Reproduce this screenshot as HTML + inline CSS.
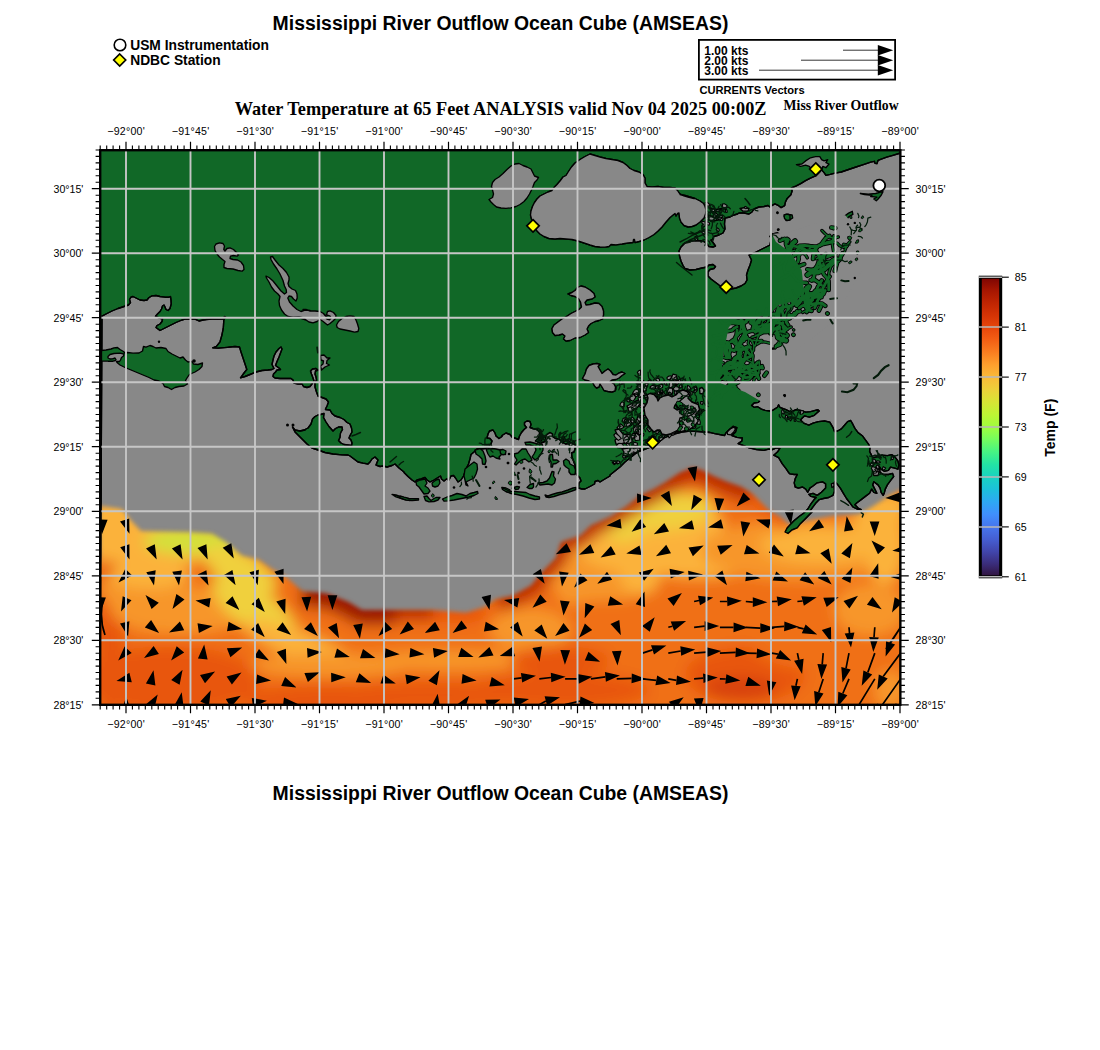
<!DOCTYPE html>
<html lang="en"><head><meta charset="utf-8"><title>Mississippi River Outflow Ocean Cube (AMSEAS)</title>
<style>html,body{margin:0;padding:0;background:#fff}body{width:1100px;height:1050px;overflow:hidden}svg{display:block}text{font-family:"Liberation Sans",Arial,Helvetica,sans-serif;fill:#000}.b{font-weight:bold}.t{font-family:"Liberation Serif","Times New Roman",Times,serif;font-weight:bold}.ax{font-size:10.6px}</style></head><body>
<svg width="1100" height="1050" viewBox="0 0 1100 1050">
<defs>
<clipPath id="mapclip"><rect x="100.2" y="150.2" width="800.15" height="554.5999999999999"/></clipPath>
<clipPath id="gulfclip"><path d="M102,316.2 L106,314 L112,311 L118,308.5 L124,306.5 L128.5,305 L130.5,302.5 L129.5,299.5 L131,297.2 L133,296.5 L136,298 L140,300 L144,300.5 L147,300 L149,297.5 L152,295.8 L156,295.5 L160,296.5 L165,297.2 L169,297.2 L170.5,296.5 L171,300 L171.2,304 L170,308.5 L168,310.5 L166,309.5 L165,307 L164,305 L162.5,306 L161.5,309 L160,311.5 L157.5,314 L155.5,316.2 L158,317.5 L162.5,319 L162,321.5 L160,324 L157,325.5 L156,327.5 L158,329 L160,330.5 L164,328.5 L170,325.5 L176,322.5 L182,320 L185,319.2 L190,318.8 L195,319.2 L199,321 L203,320 L210,319.2 L206,319.5 L212,319 L218,319.2 L223,319 L224.5,316.5 L225.5,317 L223.8,320 L223.3,328.2 L221.8,335.5 L220,341.8 L216.4,346.4 L212.7,347.8 L218.2,348.2 L227.3,347.3 L230,347 L235,346.5 L239.5,347 L241,352 L243,358 L245,364 L246.8,369.5 L244,373 L240.5,377.8 L245,376.5 L250,374.5 L256,372 L262,370.5 L268,370 L272,369.5 L274,368.5 L272,364.5 L273,360 L274,356 L276,352 L279,348.5 L281,347 L282,349 L280.5,353 L279,357 L277,361.5 L275.5,365.5 L279,368 L280.5,369.5 L277,370 L275.5,372 L273.5,374 L273,376.5 L275,378 L280,378.5 L286,378.5 L291,378.5 L293,380 L294,383 L298,384 L302,384 L303.5,386.5 L307,387.5 L310,386.5 L312,384 L314,381 L313,378 L311.5,374 L310.5,371 L312.5,369 L316,368.5 L318,370 L315.5,371 L315,374 L316,377 L316.5,380 L315,383 L315,387 L316.5,392 L318,396 L322,397.5 L326,399 L328.5,402 L327,406 L325.5,409 L325.5,409.5 L330,410 L332,413.5 L335,416 L340,417.5 L344,419.5 L347,422.5 L350,424 L351.5,428 L352,432 L350,435.5 L349,438 L351,440 L352,443 L351.5,445.5 L344,444.5 L341,443 L338.5,440.5 L340,437.5 L340.5,433 L342.5,429.5 L342,427 L339,426.8 L335.5,428.5 L333,431 L329,426.5 L326,422 L323.5,417.5 L324,413.5 L320.5,414.5 L318,415 L315,416.5 L312.5,419 L311,424 L308,428 L304,430 L300,431 L305,430 L300,431 L295,430 L292.5,427 L295,432 L299,436 L303,440 L307,444 L312,448 L318,450 L325,452.5 L333,454 L342,454.8 L348,455 L350,456 L354,459 L358,462 L363,463.2 L368,464 L370,462 L372,459 L375,457 L378,460 L376,465 L380,466.5 L383,466 L387,467 L392,465.5 L395,464 L399,468 L404,472 L404,472.5 L408,476.5 L412,480 L415,482 L417,480 L421,479 L425,477.5 L427,480 L430,482 L434,480 L438,477.5 L440.5,476 L441.5,479 L444,481 L446.5,479 L449,480 L451,476 L453.5,475.5 L455.5,478 L458,482 L461,480 L463.5,476 L465,472 L466.5,468 L468.5,464 L470,459 L471,454.5 L474,452 L477,449 L481,449 L485,448.5 L488,447 L491,444 L492,441 L490,438.5 L487,438 L488,434 L489.5,431 L493,430 L495,433 L496,436 L499,438.5 L502,436.5 L502,435.5 L506,433 L510,434.5 L512,437 L516,438.5 L518.5,439.5 L519.5,436 L521.5,432.5 L524,429.5 L526.5,427.5 L524.5,425 L524.5,422.5 L527,421 L530,421.5 L531,424.5 L530,427.5 L533,428.5 L537,429.5 L539.5,432 L539.5,436 L537.5,439 L535.5,441 L540,443 L544,442 L546,439.5 L545,436.5 L547,434.5 L550,432.5 L552.5,434 L552.5,436.5 L555.5,438.5 L559,439 L562,442 L565.5,444 L569,443.5 L571,442.5 L574,444 L575.5,445.5 L575,449 L574,452 L571.5,453 L572,457 L573.5,461 L575,465 L575.5,469 L575.5,473 L578,476 L580,478 L581,481 L579,483 L578.5,488 L582,489 L585,489 L590,486.5 L594.5,484 L595,481.5 L598,480.5 L600,482 L604,479.5 L610,476 L610,475 L615,471 L620,467 L625,462 L630,458 L635,454 L640,451 L644,449.5 L649,447.5 L653,446 L659,442 L664,438 L670,435.5 L676,433.5 L682,432 L690,431.2 L698,431.5 L704,432 L710,432.5 L707.4,431.9 L714.7,433.7 L724.6,435.5 L725.8,433.1 L729.5,429.4 L733.2,426.3 L736.9,427.6 L735.6,431.9 L731.9,435.5 L736.9,437.4 L742.4,438 L741.8,441.1 L738.1,443.5 L743,445.4 L749.1,447.8 L756.5,449.7 L763.9,450.3 L768.8,449.1 L772.5,449.7 L776.2,447.8 L779.9,448.4 L777.4,452.1 L773.7,455.2 L778.6,457.7 L782.3,463.8 L786,468.7 L788.5,472.4 L790,473.9 L794.2,474.5 L797.3,474.5 L795.2,478.6 L794.2,482.8 L795.2,487 L798.4,488.1 L802.6,487 L805.7,489.1 L807.8,492.3 L809.9,488.1 L813,486 L817.2,482.8 L822.5,481.8 L825.6,483.9 L825.6,488.1 L821.4,492.3 L817.2,495.4 L813,493.3 L808.8,494.3 L810.9,496.4 L816.2,497.5 L814.1,499.6 L810.9,503.8 L807.8,509 L803.6,513.2 L799.4,516.3 L794.2,520.5 L790,524.7 L787,528 L785,532 L788,533.5 L792,530 L797.3,527.9 L800.5,523.7 L804.7,519.5 L808.8,515.3 L812,512.1 L809.9,511.1 L813,506.9 L816.2,502.7 L819.3,499.6 L823.5,498.5 L828.7,497.5 L832.9,495.4 L834.5,491.2 L834,484.9 L835,481.8 L837.1,483.9 L840.3,488.1 L843.4,493.3 L846.5,498.5 L849.7,502.7 L852.8,506.9 L857,509 L861.2,509.5 L858.1,508 L854.9,504.8 L857,502.7 L861.2,499.6 L865.4,496.4 L869.6,493.3 L871.7,489.1 L873.8,492.3 L876.9,493.3 L874.8,489.1 L872.7,484.9 L873.8,481.8 L878,484.9 L880.1,488.1 L881.1,492.3 L883.2,495.4 L884.2,493.3 L885.3,489.1 L887.4,484.9 L890.5,480.7 L893.7,476.5 L892.6,473.4 L888.4,474.5 L883.2,474.5 L880.1,472.4 L879,466.1 L881.1,469.2 L884.2,471.3 L888.4,470.3 L890.5,467.1 L894.7,468.2 L897.9,469.2 L898.9,465 L897.9,460.8 L894.7,456.6 L891.6,454.6 L887.4,455.6 L882.1,455.1 L878,456.6 L872.7,457.7 L871.2,454.6 L869.6,451.4 L870.1,447.2 L868.5,444.1 L865.4,439.9 L862.3,435.7 L858.1,432.6 L854.9,428.4 L852.8,424.2 L850.7,420.5 L847.6,421.6 L844.5,425.2 L841.3,428.9 L837.6,431 L834.5,431.5 L832.9,427.3 L829.8,422.1 L824.6,421 L818.3,421.6 L813,423.1 L808.8,425.2 L803.6,423.1 L800.5,420 L802,418.3 L804.4,415.9 L809.3,417.1 L814.3,415.3 L819.2,411 L817.9,409.7 L810.6,411.6 L805.7,412.2 L800.7,410.4 L795.8,409.7 L790.9,412.2 L786,409.7 L779.9,407.3 L778.6,404.8 L777.4,407.3 L772.5,410.4 L770,411 L765.1,410.4 L761.4,409.1 L757.7,406.7 L754.1,407.3 L751.6,405.4 L754.1,403 L758.4,402.4 L761.4,398.7 L760.2,395 L766,392.9 L758.6,391.6 L753.7,385.5 L756.2,380.6 L763.5,378.7 L767.2,376.9 L768.5,368.3 L764.8,362.1 L758.6,360.9 L754.9,354.8 L754.9,348.6 L759.9,343.7 L764.8,342.5 L768.5,343.7 L770.9,346.2 L774.6,348.6 L779.5,346.2 L786.9,341.3 L790.6,336.3 L799.8,333.9 L795.5,329 L790.6,321.6 L794.3,316.7 L802.9,313 L815.1,310.5 L815.5,310.5 L821.6,315.5 L830.2,314.8 L827.7,309.3 L830.2,303.2 L825.3,304.4 L821.6,300.7 L825.3,294.6 L831.4,292.1 L835.1,286 L833.9,281.1 L835.1,274.9 L838.8,270 L843.7,263.5 L848.6,258.6 L843.7,253.7 L846.2,250 L849.9,245.1 L854.8,241.4 L856,236.5 L848.6,234 L843.7,230.3 L838.8,226.6 L835.1,227.9 L833.9,222.9 L827.7,226.6 L821.6,230.3 L814.2,235.2 L806.9,238.9 L803.2,239.5 L794.6,239.5 L787.2,238.9 L782.3,236.5 L777.4,232.8 L772.5,234 L770,236.5 L772,234 L770,245 L763,248.5 L756,252 L749,255 L751.5,260 L750,265 L748,270 L746.5,275 L747,280 L745,283.5 L741,286 L736,288 L731,289 L722,287 L719,285 L715,282 L711,279 L708,276 L708,272 L710,269.5 L714,268.5 L715.5,266.5 L713,264.5 L709,265 L707,267 L702,268 L696,269.5 L690,270 L685,268.5 L683,265.5 L681,261 L679.5,256 L679,251 L681,247 L685,243 L690,241 L698,240.5 L704,241.5 L707,244 L709,246.5 L713,247 L715.5,246 L713,242.5 L711,240 L712,240 L714,236.5 L719,235 L723,233 L725,229 L724.5,224 L725,218 L730,217 L734,215 L737.5,214 L739,213 L744,213 L749,214 L752,212 L754,209 L759,207 L764,206.5 L768,205.5 L770,207 L771.8,205.7 L774.9,203.9 L778.6,205.7 L781.1,207.6 L784.7,205.7 L785.4,202.1 L787.2,198.4 L790.9,194.7 L792.1,191 L791.5,187.9 L795.8,186.1 L800.7,183.6 L805.6,180.6 L810.5,178.1 L816.1,175.6 L819.1,172.6 L821.6,169.9 L824.1,172.6 L825.9,175.3 L830.2,174.4 L835.1,173.2 L841.3,172 L848.6,169.5 L856,167 L863.4,164.6 L870.7,162.1 L874.4,161.3 L875,163.4 L876.9,163.7 L878.1,160.3 L880.6,159.3 L886.7,157.2 L892.9,155.4 L899,153.5 L901,153 L901,705 L100,705Z"/></clipPath>
<filter id="tb" x="-10%" y="-10%" width="120%" height="120%"><feGaussianBlur stdDeviation="7"/></filter><filter id="tb2" x="-10%" y="-10%" width="120%" height="120%"><feGaussianBlur stdDeviation="2.0"/></filter><mask id="tmask" maskUnits="userSpaceOnUse" x="90" y="440" width="830" height="280"><g filter="url(#tb2)"><path d="M100,506 L122,509 L130.5,520 L141,531 L190.5,532 L212,533.6 L226,542 L242,555.5 L258.6,559.5 L272,569 L286,577 L302,591 L327,593.6 L348.6,602 L362,610 L395,610 L433,610 L466,612.7 L485,607 L496,599 L512,596 L531,585.5 L542,572 L556,558 L561,542 L580,536 L591,525.5 L610,517 L627,506 L640,495.5 L654,489 L665,482.5 L680,472.5 L692.5,467.5 L702,470 L712.7,475.8 L725.8,481.3 L741.1,486.7 L752,493.3 L762.9,504.2 L769.5,510.7 L780.4,517.2 L790,525 L810,520 L832.5,516 L860,514 L875,505 L890,495 L902,489 L902,706 L99,706Z" fill="#fff"/><rect x="80" y="560" width="40" height="160" fill="#fff"/><rect x="880" y="520" width="40" height="200" fill="#fff"/><rect x="80" y="690" width="840" height="40" fill="#fff"/></g></mask>
<linearGradient id="turbo" x1="0" y1="1" x2="0" y2="0">
<stop offset="0.0000" stop-color="#30123b"/>
<stop offset="0.0417" stop-color="#3a2c79"/>
<stop offset="0.0833" stop-color="#4145ab"/>
<stop offset="0.1250" stop-color="#455ed2"/>
<stop offset="0.1667" stop-color="#4675ed"/>
<stop offset="0.2083" stop-color="#408ffd"/>
<stop offset="0.2500" stop-color="#2ea8f3"/>
<stop offset="0.2917" stop-color="#1cc0db"/>
<stop offset="0.3333" stop-color="#18d3c1"/>
<stop offset="0.3750" stop-color="#23e4a4"/>
<stop offset="0.4167" stop-color="#46f484"/>
<stop offset="0.4583" stop-color="#74fc5e"/>
<stop offset="0.5000" stop-color="#a0fd3d"/>
<stop offset="0.5417" stop-color="#bdf534"/>
<stop offset="0.5833" stop-color="#d7e535"/>
<stop offset="0.6250" stop-color="#ecd03a"/>
<stop offset="0.6667" stop-color="#f9ba38"/>
<stop offset="0.7083" stop-color="#fe9f2d"/>
<stop offset="0.7500" stop-color="#fa7d20"/>
<stop offset="0.7917" stop-color="#f35e14"/>
<stop offset="0.8333" stop-color="#e6450b"/>
<stop offset="0.8750" stop-color="#d43305"/>
<stop offset="0.9167" stop-color="#be2402"/>
<stop offset="0.9583" stop-color="#a41501"/>
<stop offset="1.0000" stop-color="#7a0403"/>
</linearGradient>
</defs>
<rect width="1100" height="1050" fill="#fff"/>
<g clip-path="url(#mapclip)">
<rect x="100.2" y="150.2" width="800.15" height="554.5999999999999" fill="#116827"/>
<path d="M102,316.2 L106,314 L112,311 L118,308.5 L124,306.5 L128.5,305 L130.5,302.5 L129.5,299.5 L131,297.2 L133,296.5 L136,298 L140,300 L144,300.5 L147,300 L149,297.5 L152,295.8 L156,295.5 L160,296.5 L165,297.2 L169,297.2 L170.5,296.5 L171,300 L171.2,304 L170,308.5 L168,310.5 L166,309.5 L165,307 L164,305 L162.5,306 L161.5,309 L160,311.5 L157.5,314 L155.5,316.2 L158,317.5 L162.5,319 L162,321.5 L160,324 L157,325.5 L156,327.5 L158,329 L160,330.5 L164,328.5 L170,325.5 L176,322.5 L182,320 L185,319.2 L190,318.8 L195,319.2 L199,321 L203,320 L210,319.2 L206,319.5 L212,319 L218,319.2 L223,319 L224.5,316.5 L225.5,317 L223.8,320 L223.3,328.2 L221.8,335.5 L220,341.8 L216.4,346.4 L212.7,347.8 L218.2,348.2 L227.3,347.3 L230,347 L235,346.5 L239.5,347 L241,352 L243,358 L245,364 L246.8,369.5 L244,373 L240.5,377.8 L245,376.5 L250,374.5 L256,372 L262,370.5 L268,370 L272,369.5 L274,368.5 L272,364.5 L273,360 L274,356 L276,352 L279,348.5 L281,347 L282,349 L280.5,353 L279,357 L277,361.5 L275.5,365.5 L279,368 L280.5,369.5 L277,370 L275.5,372 L273.5,374 L273,376.5 L275,378 L280,378.5 L286,378.5 L291,378.5 L293,380 L294,383 L298,384 L302,384 L303.5,386.5 L307,387.5 L310,386.5 L312,384 L314,381 L313,378 L311.5,374 L310.5,371 L312.5,369 L316,368.5 L318,370 L315.5,371 L315,374 L316,377 L316.5,380 L315,383 L315,387 L316.5,392 L318,396 L322,397.5 L326,399 L328.5,402 L327,406 L325.5,409 L325.5,409.5 L330,410 L332,413.5 L335,416 L340,417.5 L344,419.5 L347,422.5 L350,424 L351.5,428 L352,432 L350,435.5 L349,438 L351,440 L352,443 L351.5,445.5 L344,444.5 L341,443 L338.5,440.5 L340,437.5 L340.5,433 L342.5,429.5 L342,427 L339,426.8 L335.5,428.5 L333,431 L329,426.5 L326,422 L323.5,417.5 L324,413.5 L320.5,414.5 L318,415 L315,416.5 L312.5,419 L311,424 L308,428 L304,430 L300,431 L305,430 L300,431 L295,430 L292.5,427 L295,432 L299,436 L303,440 L307,444 L312,448 L318,450 L325,452.5 L333,454 L342,454.8 L348,455 L350,456 L354,459 L358,462 L363,463.2 L368,464 L370,462 L372,459 L375,457 L378,460 L376,465 L380,466.5 L383,466 L387,467 L392,465.5 L395,464 L399,468 L404,472 L404,472.5 L408,476.5 L412,480 L415,482 L417,480 L421,479 L425,477.5 L427,480 L430,482 L434,480 L438,477.5 L440.5,476 L441.5,479 L444,481 L446.5,479 L449,480 L451,476 L453.5,475.5 L455.5,478 L458,482 L461,480 L463.5,476 L465,472 L466.5,468 L468.5,464 L470,459 L471,454.5 L474,452 L477,449 L481,449 L485,448.5 L488,447 L491,444 L492,441 L490,438.5 L487,438 L488,434 L489.5,431 L493,430 L495,433 L496,436 L499,438.5 L502,436.5 L502,435.5 L506,433 L510,434.5 L512,437 L516,438.5 L518.5,439.5 L519.5,436 L521.5,432.5 L524,429.5 L526.5,427.5 L524.5,425 L524.5,422.5 L527,421 L530,421.5 L531,424.5 L530,427.5 L533,428.5 L537,429.5 L539.5,432 L539.5,436 L537.5,439 L535.5,441 L540,443 L544,442 L546,439.5 L545,436.5 L547,434.5 L550,432.5 L552.5,434 L552.5,436.5 L555.5,438.5 L559,439 L562,442 L565.5,444 L569,443.5 L571,442.5 L574,444 L575.5,445.5 L575,449 L574,452 L571.5,453 L572,457 L573.5,461 L575,465 L575.5,469 L575.5,473 L578,476 L580,478 L581,481 L579,483 L578.5,488 L582,489 L585,489 L590,486.5 L594.5,484 L595,481.5 L598,480.5 L600,482 L604,479.5 L610,476 L610,475 L615,471 L620,467 L625,462 L630,458 L635,454 L640,451 L644,449.5 L649,447.5 L653,446 L659,442 L664,438 L670,435.5 L676,433.5 L682,432 L690,431.2 L698,431.5 L704,432 L710,432.5 L707.4,431.9 L714.7,433.7 L724.6,435.5 L725.8,433.1 L729.5,429.4 L733.2,426.3 L736.9,427.6 L735.6,431.9 L731.9,435.5 L736.9,437.4 L742.4,438 L741.8,441.1 L738.1,443.5 L743,445.4 L749.1,447.8 L756.5,449.7 L763.9,450.3 L768.8,449.1 L772.5,449.7 L776.2,447.8 L779.9,448.4 L777.4,452.1 L773.7,455.2 L778.6,457.7 L782.3,463.8 L786,468.7 L788.5,472.4 L790,473.9 L794.2,474.5 L797.3,474.5 L795.2,478.6 L794.2,482.8 L795.2,487 L798.4,488.1 L802.6,487 L805.7,489.1 L807.8,492.3 L809.9,488.1 L813,486 L817.2,482.8 L822.5,481.8 L825.6,483.9 L825.6,488.1 L821.4,492.3 L817.2,495.4 L813,493.3 L808.8,494.3 L810.9,496.4 L816.2,497.5 L814.1,499.6 L810.9,503.8 L807.8,509 L803.6,513.2 L799.4,516.3 L794.2,520.5 L790,524.7 L787,528 L785,532 L788,533.5 L792,530 L797.3,527.9 L800.5,523.7 L804.7,519.5 L808.8,515.3 L812,512.1 L809.9,511.1 L813,506.9 L816.2,502.7 L819.3,499.6 L823.5,498.5 L828.7,497.5 L832.9,495.4 L834.5,491.2 L834,484.9 L835,481.8 L837.1,483.9 L840.3,488.1 L843.4,493.3 L846.5,498.5 L849.7,502.7 L852.8,506.9 L857,509 L861.2,509.5 L858.1,508 L854.9,504.8 L857,502.7 L861.2,499.6 L865.4,496.4 L869.6,493.3 L871.7,489.1 L873.8,492.3 L876.9,493.3 L874.8,489.1 L872.7,484.9 L873.8,481.8 L878,484.9 L880.1,488.1 L881.1,492.3 L883.2,495.4 L884.2,493.3 L885.3,489.1 L887.4,484.9 L890.5,480.7 L893.7,476.5 L892.6,473.4 L888.4,474.5 L883.2,474.5 L880.1,472.4 L879,466.1 L881.1,469.2 L884.2,471.3 L888.4,470.3 L890.5,467.1 L894.7,468.2 L897.9,469.2 L898.9,465 L897.9,460.8 L894.7,456.6 L891.6,454.6 L887.4,455.6 L882.1,455.1 L878,456.6 L872.7,457.7 L871.2,454.6 L869.6,451.4 L870.1,447.2 L868.5,444.1 L865.4,439.9 L862.3,435.7 L858.1,432.6 L854.9,428.4 L852.8,424.2 L850.7,420.5 L847.6,421.6 L844.5,425.2 L841.3,428.9 L837.6,431 L834.5,431.5 L832.9,427.3 L829.8,422.1 L824.6,421 L818.3,421.6 L813,423.1 L808.8,425.2 L803.6,423.1 L800.5,420 L802,418.3 L804.4,415.9 L809.3,417.1 L814.3,415.3 L819.2,411 L817.9,409.7 L810.6,411.6 L805.7,412.2 L800.7,410.4 L795.8,409.7 L790.9,412.2 L786,409.7 L779.9,407.3 L778.6,404.8 L777.4,407.3 L772.5,410.4 L770,411 L765.1,410.4 L761.4,409.1 L757.7,406.7 L754.1,407.3 L751.6,405.4 L754.1,403 L758.4,402.4 L761.4,398.7 L760.2,395 L766,392.9 L758.6,391.6 L753.7,385.5 L756.2,380.6 L763.5,378.7 L767.2,376.9 L768.5,368.3 L764.8,362.1 L758.6,360.9 L754.9,354.8 L754.9,348.6 L759.9,343.7 L764.8,342.5 L768.5,343.7 L770.9,346.2 L774.6,348.6 L779.5,346.2 L786.9,341.3 L790.6,336.3 L799.8,333.9 L795.5,329 L790.6,321.6 L794.3,316.7 L802.9,313 L815.1,310.5 L815.5,310.5 L821.6,315.5 L830.2,314.8 L827.7,309.3 L830.2,303.2 L825.3,304.4 L821.6,300.7 L825.3,294.6 L831.4,292.1 L835.1,286 L833.9,281.1 L835.1,274.9 L838.8,270 L843.7,263.5 L848.6,258.6 L843.7,253.7 L846.2,250 L849.9,245.1 L854.8,241.4 L856,236.5 L848.6,234 L843.7,230.3 L838.8,226.6 L835.1,227.9 L833.9,222.9 L827.7,226.6 L821.6,230.3 L814.2,235.2 L806.9,238.9 L803.2,239.5 L794.6,239.5 L787.2,238.9 L782.3,236.5 L777.4,232.8 L772.5,234 L770,236.5 L772,234 L770,245 L763,248.5 L756,252 L749,255 L751.5,260 L750,265 L748,270 L746.5,275 L747,280 L745,283.5 L741,286 L736,288 L731,289 L722,287 L719,285 L715,282 L711,279 L708,276 L708,272 L710,269.5 L714,268.5 L715.5,266.5 L713,264.5 L709,265 L707,267 L702,268 L696,269.5 L690,270 L685,268.5 L683,265.5 L681,261 L679.5,256 L679,251 L681,247 L685,243 L690,241 L698,240.5 L704,241.5 L707,244 L709,246.5 L713,247 L715.5,246 L713,242.5 L711,240 L712,240 L714,236.5 L719,235 L723,233 L725,229 L724.5,224 L725,218 L730,217 L734,215 L737.5,214 L739,213 L744,213 L749,214 L752,212 L754,209 L759,207 L764,206.5 L768,205.5 L770,207 L771.8,205.7 L774.9,203.9 L778.6,205.7 L781.1,207.6 L784.7,205.7 L785.4,202.1 L787.2,198.4 L790.9,194.7 L792.1,191 L791.5,187.9 L795.8,186.1 L800.7,183.6 L805.6,180.6 L810.5,178.1 L816.1,175.6 L819.1,172.6 L821.6,169.9 L824.1,172.6 L825.9,175.3 L830.2,174.4 L835.1,173.2 L841.3,172 L848.6,169.5 L856,167 L863.4,164.6 L870.7,162.1 L874.4,161.3 L875,163.4 L876.9,163.7 L878.1,160.3 L880.6,159.3 L886.7,157.2 L892.9,155.4 L899,153.5 L901,153 L901,705 L100,705Z" fill="#888888" stroke="#000" stroke-width="1.35" stroke-linejoin="round"/>
<path d="M489,199.5 L492.5,197.5 L493.5,194 L492.5,190 L491.5,186.5 L492.5,182.5 L495,179.5 L499,177 L503,173.5 L507,169.5 L511,166 L515,164 L519,163.5 L523,165.5 L527,167 L531,169 L533,173 L534.5,176 L538.5,177.5 L537,180 L534.5,182.5 L533,186.5 L531.5,190 L529.5,194 L527,198 L524,201.5 L520,204.5 L516,206.5 L511,207.8 L506,208.3 L501,208 L496.5,207 L493.5,204.5 L491,202Z" fill="#888888" stroke="#000" stroke-width="1.35" stroke-linejoin="round"/>
<path d="M590,154 L585,156.5 L580,159.5 L575,163 L571.5,167 L568.5,171.5 L566,175.5 L563,177 L560,181 L557,184.5 L554,187.5 L552,190.5 L548,192 L544,194 L540,196 L537,199 L534.5,202.5 L532.5,206.5 L531,211 L530.5,215 L531.5,219 L533.5,225 L537,231 L540,234 L544,236.5 L549,238.5 L555,239 L560,238.5 L566,239 L572,239.5 L578,241 L584,243 L590,245 L595,246.5 L600,247 L605,247.2 L609,246.5 L611,244.5 L616,244.8 L622,244 L628,243 L633,242.5 L633.5,239.5 L634.5,239.5 L635,242.5 L639,241.5 L644,240 L649,237.5 L654,234.5 L658,231 L662,227 L666,222 L670,217.5 L673,215 L675,213.5 L676,216 L677.5,213.5 L679,213 L679.5,218 L681,222 L684,225.5 L688.5,227 L684,225.5 L688,227 L692,226.5 L696,225 L700,222 L704,218 L705.5,214 L706,210 L705,206.5 L703.5,203.5 L700,201 L695,198.5 L690,197 L685,195.5 L680,194.5 L694,198.5 L688,197 L683,195.5 L679.5,193.5 L677.5,190.5 L675,188 L670,187.5 L664,187.5 L658,186.5 L652,186.8 L647,186.5 L645,183 L645,178 L643,174.5 L639,172 L634,170.5 L630,168.5 L627,165.5 L623,162.5 L618,160.5 L612,159.5 L606,158.5 L600,157 L595,155.5 L590,154Z" fill="#888888" stroke="#000" stroke-width="1.35" stroke-linejoin="round"/>
<path d="M214.5,246.5 L216,244 L219.5,242.8 L223,243.5 L224.5,246 L223.8,249.5 L225,251 L227,248.5 L230,247.8 L233.5,249.5 L236,252 L238.5,255 L237,256.2 L233.5,255.5 L230.5,256.2 L230,258.5 L233,259.5 L237.5,260 L241,262 L243.5,265.5 L244,269.5 L242,271.2 L238,270.5 L233,269 L227,268.5 L224,267.5 L224,264.5 L225,261.5 L222.5,259.5 L219.5,257 L217,254 L215,250.5Z" fill="#888888" stroke="#000" stroke-width="1.35" stroke-linejoin="round"/>
<path d="M266,276.2 L269,277.5 L273,281 L277,286 L281,291 L284.5,294 L286.5,292.5 L286.2,289.5 L284.5,286 L283,280.5 L280,274 L277,269 L273.5,264 L271,259.5 L270.5,257 L272.5,256.5 L275,260 L279,265 L283,268.5 L286.5,272.5 L289,277 L289,280 L288,283.5 L289,286.5 L292,289 L295.5,290.5 L297,294 L297.2,298 L296,301 L293.5,299 L291.5,296.5 L289,296 L287.8,298 L289.5,302 L293,306 L297,309.5 L301,311.5 L305,310 L310,310.5 L303,309.5 L306,309.5 L310,311 L315,311 L320,311.5 L323.5,313.5 L325.5,316.2 L326.8,313.8 L327.5,311.5 L330,310.8 L333.5,312.5 L336,315.5 L335.5,318.5 L333,321 L330,323.5 L327.5,325 L325,323 L322.5,321 L320,319.5 L317,321.5 L313,322.8 L309,322 L306,320 L303,318.5 L300,318 L306,320 L304,318 L299,317 L293,317.2 L288,316.5 L284.5,314 L281.5,310 L279.5,305.5 L279,301 L280,296.5 L278,294 L274.5,291 L271.5,287 L269,282 L266.5,278Z" fill="#888888" stroke="#000" stroke-width="1.35" stroke-linejoin="round"/>
<path d="M336.5,325 L338.5,321.5 L342,318.5 L346,316.5 L350,315.8 L354,316.5 L356,320 L357.5,324 L358.8,328.5 L358,331.5 L354.5,332.2 L350,331 L345,330 L340,329 L337.2,327.5Z" fill="#888888" stroke="#000" stroke-width="1.35" stroke-linejoin="round"/>
<path d="M320.5,355.5 L324,355 L327,358 L330,358 L327,360.5 L326.5,363.5 L329.5,365 L325,367 L321.5,370 L320.5,366 L323,364 L323.5,361 L321,360Z" fill="#888888" stroke="#000" stroke-width="1.35" stroke-linejoin="round"/>
<path d="M568,294 L572,292.5 L575,290.5 L577.5,287.5 L581,286 L585,287 L590,290 L594,293.5 L595,297 L592,299 L587,300 L585,302.5 L586,305 L590,304.5 L595,303 L599,303.5 L602,306.5 L603.5,311 L603.5,315 L602.5,319 L599,320.5 L595,321.5 L591,323.5 L588.5,326 L587,329 L588.5,332.5 L585,335 L580,337.5 L575,338 L570,340.5 L566,341 L563.5,339 L565,336 L562.5,334 L559,335 L555,335.5 L552.5,332.5 L552,328.5 L554,325 L558,322 L562,319 L566.5,316.5 L571,313.5 L575,311.5 L579,309.5 L581.5,307 L580.5,302 L578.5,298.5 L575,296.5 L571,295.5Z" fill="#888888" stroke="#000" stroke-width="1.35" stroke-linejoin="round"/>
<path d="M582.5,378.5 L585,374 L586.5,369 L589,365.5 L593,364 L597,363.5 L600,364.5 L598,366.5 L600,370 L602,373.5 L605,371 L608,369 L610.5,371 L613,374.5 L616,375 L619,373 L622,372 L625,373.5 L622,375.5 L619,378 L616,379.5 L612,380 L610,381.5 L614,384 L615.5,387 L615,391 L612,392 L608,391.5 L604,390.5 L602,387 L600,384 L599,387 L596.5,388 L594.5,386 L593,383 L589,381 L585,380Z" fill="#888888" stroke="#000" stroke-width="1.35" stroke-linejoin="round"/>
<path d="M644,408 L647,403 L648,398 L647,395 L650,393.5 L654,394.5 L657,398 L658,401 L660,398 L664,396 L668,395 L672,397 L676,395 L679,391.5 L683,390 L687,391.5 L689,394 L686,396 L682,399 L679,402 L675,405 L674,408 L677,410 L680,409 L685,408.5 L690,410 L695,408 L696,411 L693,414 L689,416 L685,417 L680,418 L679,422 L680,426 L678,430 L674,432 L670,434 L666,435 L662,434 L660,430 L657,430 L654,432 L651,429 L648,425 L648,420 L645,415Z" fill="#888888" stroke="#000" stroke-width="1.35" stroke-linejoin="round"/>
<path d="M674,398.2 L679.1,391.8 L686.7,390.5 L690.5,393.1 L688,398.2 L691.8,402 L698.2,404.5 L699.5,409.6 L695.6,414.7 L698.2,421.1 L694.4,426.2 L689.3,429.4 L681.6,431.3 L676.5,431.3 L672.7,426.2 L671.5,419.8 L679.1,416 L681.6,410.9 L676.5,405.8Z" fill="#888888" stroke="#000" stroke-width="1.35" stroke-linejoin="round"/>
<path d="M600,375 L603,373 L606,371 L610,372 L614,375 L615,378 L611,380 L606,380.5 L602,379 L600,380Z" fill="#888888" stroke="#000" stroke-width="1.35" stroke-linejoin="round"/>
<path d="M601,385 L605,383.5 L610,384 L614,385 L615,390 L611,391.5 L606,390 L603,388Z" fill="#888888" stroke="#000" stroke-width="1.35" stroke-linejoin="round"/>
<path d="M627,406 L631,404 L636,401 L640,400 L640,404 L637,408 L633,410 L629,411Z" fill="#888888" stroke="#000" stroke-width="1.35" stroke-linejoin="round"/>
<path d="M634,426 L638,424 L641,426 L641,434 L638,435 L635,432Z" fill="#888888" stroke="#000" stroke-width="1.35" stroke-linejoin="round"/>
<path d="M615,430 L619,429 L623,434 L627,435 L630,434 L633,438 L632,442 L628,444 L624,443 L620,444.5 L616,444 L615,440 L618,438 L617,434Z" fill="#888888" stroke="#000" stroke-width="1.35" stroke-linejoin="round"/>
<path d="M622,449 L628,448 L634,447.5 L640,448 L640,450 L635,453 L630,456 L626,457 L623,455 L624,452Z" fill="#888888" stroke="#000" stroke-width="1.35" stroke-linejoin="round"/>
<path d="M699.5,388.5 L702,387.5 L704,390 L703,394 L700,393.5Z" fill="#888888" stroke="#000" stroke-width="1.35" stroke-linejoin="round"/>
<path d="M688,425.5 L692,424.5 L696,426 L695,428 L690,428.5Z" fill="#888888" stroke="#000" stroke-width="1.35" stroke-linejoin="round"/>
<path d="M821.6,169.5 L822.8,166.4 L825.9,167.7 L829,164 L825.9,162.7 L827.7,159.7 L824.1,160.9 L821.6,159.7 L819.8,156.6 L815.5,156.6 L810.5,157.8 L805.6,160.9 L801.9,164 L796.4,164.6 L800.7,166.4 L805.6,165.2 L809.3,166.4 L811.8,169.5 L816.1,175.6 L819.1,172.6Z" fill="#888888" stroke="#000" stroke-width="1.35" stroke-linejoin="round"/>
<path d="M710,208 L716,209.5 L722,208.5 L720,211 L715,212 L711,211.5Z" fill="#888888" stroke="#000" stroke-width="1.35" stroke-linejoin="round"/>
<path d="M708,215 L714,217 L720,215 L722,217 L718,220 L713,221 L709,220Z" fill="#888888" stroke="#000" stroke-width="1.35" stroke-linejoin="round"/>
<path d="M740,208.5 L745,207.5 L749,208.5 L748,211 L743,211.2Z" fill="#888888" stroke="#000" stroke-width="1.35" stroke-linejoin="round"/>
<path d="M872.2,470.8 L875.9,469.7 L879,472.4 L878,475.5 L873.8,475.5Z" fill="#888888" stroke="#000" stroke-width="1.35" stroke-linejoin="round"/>
<path d="M831.4,483.9 L834,482.8 L834.5,486 L831.9,487.5Z" fill="#888888" stroke="#000" stroke-width="1.35" stroke-linejoin="round"/>
<path d="M727,431.9 L730.1,428.8 L733.8,427.2 L735.6,428.8 L733.8,431.9 L730.7,434.9 L727.6,434.3Z" fill="#888888" stroke="#000" stroke-width="1.35" stroke-linejoin="round"/>
<g clip-path="url(#gulfclip)"><g mask="url(#tmask)"><g filter="url(#tb)"><rect x="60" y="420" width="900" height="330" fill="#f07016"/><ellipse cx="115" cy="530" rx="30" ry="35" fill="#fbb23a" transform="rotate(0 115 530)"/><ellipse cx="160" cy="545" rx="60" ry="22" fill="#fbb23a" transform="rotate(0 160 545)"/><ellipse cx="192" cy="541" rx="48" ry="14" fill="#d4e03a" transform="rotate(0 192 541)"/><ellipse cx="240" cy="570" rx="40" ry="18" fill="#f0d03c" transform="rotate(30 240 570)"/><ellipse cx="110" cy="640" rx="14" ry="80" fill="#e8560e" transform="rotate(0 110 640)"/><ellipse cx="180" cy="610" rx="70" ry="24" fill="#f7962a" transform="rotate(0 180 610)"/><ellipse cx="255" cy="610" rx="50" ry="20" fill="#f0d03c" transform="rotate(35 255 610)"/><ellipse cx="300" cy="645" rx="60" ry="14" fill="#fbb23a" transform="rotate(20 300 645)"/><ellipse cx="170" cy="680" rx="90" ry="34" fill="#e8560e" transform="rotate(0 170 680)"/><ellipse cx="330" cy="665" rx="80" ry="12" fill="#f7962a" transform="rotate(0 330 665)"/><ellipse cx="330" cy="700" rx="90" ry="16" fill="#e8560e" transform="rotate(0 330 700)"/><ellipse cx="130" cy="590" rx="30" ry="20" fill="#f7962a" transform="rotate(0 130 590)"/><ellipse cx="150" cy="575" rx="40" ry="14" fill="#fbb23a" transform="rotate(0 150 575)"/><ellipse cx="430" cy="640" rx="80" ry="16" fill="#f07016" transform="rotate(0 430 640)"/><ellipse cx="450" cy="660" rx="90" ry="10" fill="#f7962a" transform="rotate(0 450 660)"/><ellipse cx="430" cy="695" rx="100" ry="14" fill="#e8560e" transform="rotate(0 430 695)"/><ellipse cx="560" cy="690" rx="90" ry="18" fill="#e8560e" transform="rotate(0 560 690)"/><ellipse cx="600" cy="570" rx="50" ry="40" fill="#f7962a" transform="rotate(-30 600 570)"/><ellipse cx="610" cy="620" rx="60" ry="20" fill="#f07016" transform="rotate(0 610 620)"/><ellipse cx="530" cy="630" rx="40" ry="22" fill="#f7962a" transform="rotate(0 530 630)"/><ellipse cx="560" cy="660" rx="50" ry="14" fill="#e8560e" transform="rotate(0 560 660)"/><ellipse cx="650" cy="535" rx="75" ry="36" fill="#fbb23a" transform="rotate(-8 650 535)"/><ellipse cx="672" cy="512" rx="42" ry="18" fill="#f0d03c" transform="rotate(-8 672 512)"/><ellipse cx="630" cy="520" rx="28" ry="20" fill="#f0d03c" transform="rotate(-30 630 520)"/><ellipse cx="700" cy="560" rx="60" ry="18" fill="#fbb23a" transform="rotate(0 700 560)"/><ellipse cx="800" cy="550" rx="100" ry="30" fill="#f7962a" transform="rotate(0 800 550)"/><ellipse cx="820" cy="545" rx="60" ry="18" fill="#fbb23a" transform="rotate(0 820 545)"/><ellipse cx="880" cy="515" rx="30" ry="20" fill="#fbb23a" transform="rotate(-30 880 515)"/><ellipse cx="885" cy="545" rx="20" ry="40" fill="#fbb23a" transform="rotate(0 885 545)"/><ellipse cx="745" cy="675" rx="60" ry="28" fill="#e8560e" transform="rotate(0 745 675)"/><ellipse cx="740" cy="688" rx="36" ry="12" fill="#d8420a" transform="rotate(0 740 688)"/><ellipse cx="820" cy="640" rx="70" ry="30" fill="#f07016" transform="rotate(0 820 640)"/><ellipse cx="690" cy="620" rx="60" ry="20" fill="#f07016" transform="rotate(0 690 620)"/><ellipse cx="870" cy="610" rx="36" ry="26" fill="#f7962a" transform="rotate(0 870 610)"/><ellipse cx="890" cy="690" rx="16" ry="20" fill="#f7962a" transform="rotate(0 890 690)"/><ellipse cx="640" cy="575" rx="20" ry="20" fill="#fbb23a" transform="rotate(0 640 575)"/><path d="M395,610 L433,610 L466,612.7 L485,607" fill="none" stroke="#e8560e" stroke-width="22" stroke-linejoin="round"/><path d="M302,591 L327,593.6 L348.6,602 L362,610 L395,610" fill="none" stroke="#9c1802" stroke-width="30" stroke-linejoin="round"/><path d="M395,610 L433,610" fill="none" stroke="#bc2a02" stroke-width="20" stroke-linejoin="round"/><path d="M496,599 L512,596 L531,585.5 L542,572 L556,558 L561,542 L580,536 L591,525.5 L610,517 L627,506" fill="none" stroke="#bc2a02" stroke-width="22" stroke-linejoin="round"/><path d="M627,506 L640,495.5 L654,489 L665,482.5 L680,472.5 L692.5,467.5 L702,470 L712.7,475.8 L725.8,481.3 L741.1,486.7 L752,493.3" fill="none" stroke="#bc2a02" stroke-width="26" stroke-linejoin="round"/><path d="M752,493.3 L762.9,504.2 L769.5,510.7 L780.4,517.2 L790,525" fill="none" stroke="#e8560e" stroke-width="16" stroke-linejoin="round"/></g></g></g>
<path d="M102,316.2 L106,314 L112,311 L118,308.5 L124,306.5 L128.5,305 L130.5,302.5 L129.5,299.5 L131,297.2 L133,296.5 L136,298 L140,300 L144,300.5 L147,300 L149,297.5 L152,295.8 L156,295.5 L160,296.5 L165,297.2 L169,297.2 L170.5,296.5 L171,300 L171.2,304 L170,308.5 L168,310.5 L166,309.5 L165,307 L164,305 L162.5,306 L161.5,309 L160,311.5 L157.5,314 L155.5,316.2 L158,317.5 L162.5,319 L162,321.5 L160,324 L157,325.5 L156,327.5 L158,329 L160,330.5 L164,328.5 L170,325.5 L176,322.5 L182,320 L185,319.2 L190,318.8 L195,319.2 L199,321 L203,320 L210,319.2 L206,319.5 L212,319 L218,319.2 L223,319 L224.5,316.5 L225.5,317 L223.8,320 L223.3,328.2 L221.8,335.5 L220,341.8 L216.4,346.4 L212.7,347.8 L218.2,348.2 L227.3,347.3 L230,347 L235,346.5 L239.5,347 L241,352 L243,358 L245,364 L246.8,369.5 L244,373 L240.5,377.8 L245,376.5 L250,374.5 L256,372 L262,370.5 L268,370 L272,369.5 L274,368.5 L272,364.5 L273,360 L274,356 L276,352 L279,348.5 L281,347 L282,349 L280.5,353 L279,357 L277,361.5 L275.5,365.5 L279,368 L280.5,369.5 L277,370 L275.5,372 L273.5,374 L273,376.5 L275,378 L280,378.5 L286,378.5 L291,378.5 L293,380 L294,383 L298,384 L302,384 L303.5,386.5 L307,387.5 L310,386.5 L312,384 L314,381 L313,378 L311.5,374 L310.5,371 L312.5,369 L316,368.5 L318,370 L315.5,371 L315,374 L316,377 L316.5,380 L315,383 L315,387 L316.5,392 L318,396 L322,397.5 L326,399 L328.5,402 L327,406 L325.5,409 L325.5,409.5 L330,410 L332,413.5 L335,416 L340,417.5 L344,419.5 L347,422.5 L350,424 L351.5,428 L352,432 L350,435.5 L349,438 L351,440 L352,443 L351.5,445.5 L344,444.5 L341,443 L338.5,440.5 L340,437.5 L340.5,433 L342.5,429.5 L342,427 L339,426.8 L335.5,428.5 L333,431 L329,426.5 L326,422 L323.5,417.5 L324,413.5 L320.5,414.5 L318,415 L315,416.5 L312.5,419 L311,424 L308,428 L304,430 L300,431 L305,430 L300,431 L295,430 L292.5,427 L295,432 L299,436 L303,440 L307,444 L312,448 L318,450 L325,452.5 L333,454 L342,454.8 L348,455 L350,456 L354,459 L358,462 L363,463.2 L368,464 L370,462 L372,459 L375,457 L378,460 L376,465 L380,466.5 L383,466 L387,467 L392,465.5 L395,464 L399,468 L404,472 L404,472.5 L408,476.5 L412,480 L415,482 L417,480 L421,479 L425,477.5 L427,480 L430,482 L434,480 L438,477.5 L440.5,476 L441.5,479 L444,481 L446.5,479 L449,480 L451,476 L453.5,475.5 L455.5,478 L458,482 L461,480 L463.5,476 L465,472 L466.5,468 L468.5,464 L470,459 L471,454.5 L474,452 L477,449 L481,449 L485,448.5 L488,447 L491,444 L492,441 L490,438.5 L487,438 L488,434 L489.5,431 L493,430 L495,433 L496,436 L499,438.5 L502,436.5 L502,435.5 L506,433 L510,434.5 L512,437 L516,438.5 L518.5,439.5 L519.5,436 L521.5,432.5 L524,429.5 L526.5,427.5 L524.5,425 L524.5,422.5 L527,421 L530,421.5 L531,424.5 L530,427.5 L533,428.5 L537,429.5 L539.5,432 L539.5,436 L537.5,439 L535.5,441 L540,443 L544,442 L546,439.5 L545,436.5 L547,434.5 L550,432.5 L552.5,434 L552.5,436.5 L555.5,438.5 L559,439 L562,442 L565.5,444 L569,443.5 L571,442.5 L574,444 L575.5,445.5 L575,449 L574,452 L571.5,453 L572,457 L573.5,461 L575,465 L575.5,469 L575.5,473 L578,476 L580,478 L581,481 L579,483 L578.5,488 L582,489 L585,489 L590,486.5 L594.5,484 L595,481.5 L598,480.5 L600,482 L604,479.5 L610,476 L610,475 L615,471 L620,467 L625,462 L630,458 L635,454 L640,451 L644,449.5 L649,447.5 L653,446 L659,442 L664,438 L670,435.5 L676,433.5 L682,432 L690,431.2 L698,431.5 L704,432 L710,432.5 L707.4,431.9 L714.7,433.7 L724.6,435.5 L725.8,433.1 L729.5,429.4 L733.2,426.3 L736.9,427.6 L735.6,431.9 L731.9,435.5 L736.9,437.4 L742.4,438 L741.8,441.1 L738.1,443.5 L743,445.4 L749.1,447.8 L756.5,449.7 L763.9,450.3 L768.8,449.1 L772.5,449.7 L776.2,447.8 L779.9,448.4 L777.4,452.1 L773.7,455.2 L778.6,457.7 L782.3,463.8 L786,468.7 L788.5,472.4 L790,473.9 L794.2,474.5 L797.3,474.5 L795.2,478.6 L794.2,482.8 L795.2,487 L798.4,488.1 L802.6,487 L805.7,489.1 L807.8,492.3 L809.9,488.1 L813,486 L817.2,482.8 L822.5,481.8 L825.6,483.9 L825.6,488.1 L821.4,492.3 L817.2,495.4 L813,493.3 L808.8,494.3 L810.9,496.4 L816.2,497.5 L814.1,499.6 L810.9,503.8 L807.8,509 L803.6,513.2 L799.4,516.3 L794.2,520.5 L790,524.7 L787,528 L785,532 L788,533.5 L792,530 L797.3,527.9 L800.5,523.7 L804.7,519.5 L808.8,515.3 L812,512.1 L809.9,511.1 L813,506.9 L816.2,502.7 L819.3,499.6 L823.5,498.5 L828.7,497.5 L832.9,495.4 L834.5,491.2 L834,484.9 L835,481.8 L837.1,483.9 L840.3,488.1 L843.4,493.3 L846.5,498.5 L849.7,502.7 L852.8,506.9 L857,509 L861.2,509.5 L858.1,508 L854.9,504.8 L857,502.7 L861.2,499.6 L865.4,496.4 L869.6,493.3 L871.7,489.1 L873.8,492.3 L876.9,493.3 L874.8,489.1 L872.7,484.9 L873.8,481.8 L878,484.9 L880.1,488.1 L881.1,492.3 L883.2,495.4 L884.2,493.3 L885.3,489.1 L887.4,484.9 L890.5,480.7 L893.7,476.5 L892.6,473.4 L888.4,474.5 L883.2,474.5 L880.1,472.4 L879,466.1 L881.1,469.2 L884.2,471.3 L888.4,470.3 L890.5,467.1 L894.7,468.2 L897.9,469.2 L898.9,465 L897.9,460.8 L894.7,456.6 L891.6,454.6 L887.4,455.6 L882.1,455.1 L878,456.6 L872.7,457.7 L871.2,454.6 L869.6,451.4 L870.1,447.2 L868.5,444.1 L865.4,439.9 L862.3,435.7 L858.1,432.6 L854.9,428.4 L852.8,424.2 L850.7,420.5 L847.6,421.6 L844.5,425.2 L841.3,428.9 L837.6,431 L834.5,431.5 L832.9,427.3 L829.8,422.1 L824.6,421 L818.3,421.6 L813,423.1 L808.8,425.2 L803.6,423.1 L800.5,420 L802,418.3 L804.4,415.9 L809.3,417.1 L814.3,415.3 L819.2,411 L817.9,409.7 L810.6,411.6 L805.7,412.2 L800.7,410.4 L795.8,409.7 L790.9,412.2 L786,409.7 L779.9,407.3 L778.6,404.8 L777.4,407.3 L772.5,410.4 L770,411 L765.1,410.4 L761.4,409.1 L757.7,406.7 L754.1,407.3 L751.6,405.4 L754.1,403 L758.4,402.4 L761.4,398.7 L760.2,395 L766,392.9 L758.6,391.6 L753.7,385.5 L756.2,380.6 L763.5,378.7 L767.2,376.9 L768.5,368.3 L764.8,362.1 L758.6,360.9 L754.9,354.8 L754.9,348.6 L759.9,343.7 L764.8,342.5 L768.5,343.7 L770.9,346.2 L774.6,348.6 L779.5,346.2 L786.9,341.3 L790.6,336.3 L799.8,333.9 L795.5,329 L790.6,321.6 L794.3,316.7 L802.9,313 L815.1,310.5 L815.5,310.5 L821.6,315.5 L830.2,314.8 L827.7,309.3 L830.2,303.2 L825.3,304.4 L821.6,300.7 L825.3,294.6 L831.4,292.1 L835.1,286 L833.9,281.1 L835.1,274.9 L838.8,270 L843.7,263.5 L848.6,258.6 L843.7,253.7 L846.2,250 L849.9,245.1 L854.8,241.4 L856,236.5 L848.6,234 L843.7,230.3 L838.8,226.6 L835.1,227.9 L833.9,222.9 L827.7,226.6 L821.6,230.3 L814.2,235.2 L806.9,238.9 L803.2,239.5 L794.6,239.5 L787.2,238.9 L782.3,236.5 L777.4,232.8 L772.5,234 L770,236.5 L772,234 L770,245 L763,248.5 L756,252 L749,255 L751.5,260 L750,265 L748,270 L746.5,275 L747,280 L745,283.5 L741,286 L736,288 L731,289 L722,287 L719,285 L715,282 L711,279 L708,276 L708,272 L710,269.5 L714,268.5 L715.5,266.5 L713,264.5 L709,265 L707,267 L702,268 L696,269.5 L690,270 L685,268.5 L683,265.5 L681,261 L679.5,256 L679,251 L681,247 L685,243 L690,241 L698,240.5 L704,241.5 L707,244 L709,246.5 L713,247 L715.5,246 L713,242.5 L711,240 L712,240 L714,236.5 L719,235 L723,233 L725,229 L724.5,224 L725,218 L730,217 L734,215 L737.5,214 L739,213 L744,213 L749,214 L752,212 L754,209 L759,207 L764,206.5 L768,205.5 L770,207 L771.8,205.7 L774.9,203.9 L778.6,205.7 L781.1,207.6 L784.7,205.7 L785.4,202.1 L787.2,198.4 L790.9,194.7 L792.1,191 L791.5,187.9 L795.8,186.1 L800.7,183.6 L805.6,180.6 L810.5,178.1 L816.1,175.6 L819.1,172.6 L821.6,169.9 L824.1,172.6 L825.9,175.3 L830.2,174.4 L835.1,173.2 L841.3,172 L848.6,169.5 L856,167 L863.4,164.6 L870.7,162.1 L874.4,161.3 L875,163.4 L876.9,163.7 L878.1,160.3 L880.6,159.3 L886.7,157.2 L892.9,155.4 L899,153.5 L901,153 L901,705 L100,705Z" fill="none" stroke="#000" stroke-width="1.35" stroke-linejoin="round"/>
<path d="M101.5,350.5 L106,350 L111,349 L114,347.8 L117.5,347.5 L120,349.5 L123.5,351.5 L125,353 L127.5,352.5 L133,353.2 L139,353 L142.5,351 L143.5,346.5 L146,347.2 L150,345.5 L153,346.5 L156,348 L161,347.5 L166,348.5 L168,351.5 L172,354 L177,356.5 L180,358 L183,357 L185.5,360 L188,362 L192,361.5 L193.5,364 L198,364.5 L202.5,363 L202,366.5 L199,369.5 L195,372 L191.5,373.5 L189,375 L187,378 L185.5,380.5 L187.5,384 L184,386 L179,386.5 L175,387.5 L171.5,389.5 L168,387.5 L164.5,386.5 L163,383.5 L159,381 L154,380 L149,377.5 L143,375 L137,372.5 L131,370 L125,367.5 L120,365 L117,362.5 L116.5,361.5 L119.5,361.5 L120.5,360 L121.5,357.5 L123.5,356 L123.8,354 L120,353.2 L114,353.5 L110,354.5 L108,356.5 L108,358 L110,359 L112.5,358.8 L115,358 L116,359.5 L115.5,360.5 L113,361.2 L108,361.2 L101.5,361Z" fill="#116827" stroke="#000" stroke-width="1.35" stroke-linejoin="round"/>
<path d="M327.5,315 L330,316.2 L331,318 L329.5,319.8 L327,319.2 L325.8,317.5Z" fill="#116827" stroke="#000" stroke-width="1.35" stroke-linejoin="round"/>
<path d="M392,494.5 L396,495 L400,496.5 L405,498 L410,499.2 L410,500.5 L405,499.5 L400,498.2 L396,496.8Z" fill="#116827" stroke="#000" stroke-width="1.35" stroke-linejoin="round"/>
<path d="M400,496 L404,497.2 L409,498.5 L414,498.6 L418.5,498.6 L418.5,500 L412,500.5 L406,500 L400,498Z" fill="#116827" stroke="#000" stroke-width="1.35" stroke-linejoin="round"/>
<path d="M416,482 L420,480 L425,479 L427,483 L425,486 L428,488 L430,491 L428,493.5 L424,494 L421.5,490.5 L419,487 L416.5,485Z" fill="#116827" stroke="#000" stroke-width="1.35" stroke-linejoin="round"/>
<path d="M432,483 L436,480 L439,479 L440,483 L438,486 L435,487 L432.5,486Z" fill="#116827" stroke="#000" stroke-width="1.35" stroke-linejoin="round"/>
<path d="M424,496.5 L427,496 L429,498.5 L431,500.5 L434,498.5 L436,497.5 L440,497.5 L438,500 L434,501.5 L429,501.8 L425.5,500.5Z" fill="#116827" stroke="#000" stroke-width="1.35" stroke-linejoin="round"/>
<path d="M442.5,499 L447,497 L452,495.5 L457,493.5 L462,494.5 L466,496 L470,493.5 L474,492.5 L477.5,491.5 L478,493.5 L474,495.5 L469,497 L464,498 L459,499 L454,500 L448,500.8 L444,501.2Z" fill="#116827" stroke="#000" stroke-width="1.35" stroke-linejoin="round"/>
<path d="M475,450 L480,448.5 L483,451 L485,456 L486,461 L485,464.5 L482.5,464 L482,459 L479,456 L476,454Z" fill="#116827" stroke="#000" stroke-width="1.35" stroke-linejoin="round"/>
<path d="M486,449 L492,448.5 L496,449 L500,450 L504,451 L505.5,454.5 L502,454 L499,457 L500,459 L496,458 L493,456 L490,457 L488,454Z" fill="#116827" stroke="#000" stroke-width="1.35" stroke-linejoin="round"/>
<path d="M465,469 L470,465 L474,462 L477,464 L477.5,469 L476,474 L474,478 L470,480 L466,482 L468,486 L466,485 L465,480 L464,476Z" fill="#116827" stroke="#000" stroke-width="1.35" stroke-linejoin="round"/>
<path d="M502,487.5 L506,488 L510,490 L510,492.5 L506,491.5 L503,489.5Z" fill="#116827" stroke="#000" stroke-width="1.35" stroke-linejoin="round"/>
<path d="M525,442.5 L530,442 L534,443 L538,444 L542,444 L543,447 L543,450 L541,454 L538,458 L535,460 L532,457 L534,454 L536,450 L535,447 L530,445 L526,445Z" fill="#116827" stroke="#000" stroke-width="1.35" stroke-linejoin="round"/>
<path d="M514,454 L518,453 L522,449 L526,449 L528,453 L530,456 L532,460 L529,462 L525,459 L522,460 L519,462 L516,465 L514.5,464 L517,460 L515,457Z" fill="#116827" stroke="#000" stroke-width="1.35" stroke-linejoin="round"/>
<path d="M550,454.5 L552.5,454.5 L553,460 L557,460 L559,461.5 L556,463.5 L553,464 L552.5,467 L551,467 L551,462 L549.5,459Z" fill="#116827" stroke="#000" stroke-width="1.35" stroke-linejoin="round"/>
<path d="M563.5,461 L566,459 L569,461 L570,464 L574,466 L575.5,470 L575,474.5 L571,474.5 L569,472 L569,469 L566,467 L564,465Z" fill="#116827" stroke="#000" stroke-width="1.35" stroke-linejoin="round"/>
<path d="M538,483 L543,482.5 L547,481 L549.5,478 L551,474 L552,471.5 L554,472 L553.5,476 L555.5,479 L554.5,483 L552,485 L548,484 L544,484.5 L540,485Z" fill="#116827" stroke="#000" stroke-width="1.35" stroke-linejoin="round"/>
<path d="M527,487.5 L530,484.5 L533.5,483.5 L533.5,487 L532,488.5 L529,488.5Z" fill="#116827" stroke="#000" stroke-width="1.35" stroke-linejoin="round"/>
<path d="M514,487.5 L517,486.5 L519.5,487 L518.5,489 L515.5,489.5Z" fill="#116827" stroke="#000" stroke-width="1.35" stroke-linejoin="round"/>
<path d="M502,487.5 L506,489.5 L510,491.5 L514,491.5 L520,492 L526,492.5 L530,494.5 L535,496 L539.5,497 L539.5,499 L535,499.5 L529,498 L523,496 L517,494.5 L511,493.5 L506,491.5 L502.5,489.5Z" fill="#116827" stroke="#000" stroke-width="1.35" stroke-linejoin="round"/>
<path d="M545,495 L548,496 L552,494.5 L557,493 L562,492 L568,490 L573,488 L576,487.5 L576,489.5 L572,491 L566,493 L560,494.5 L554,496.5 L549,497.5 L546,497Z" fill="#116827" stroke="#000" stroke-width="1.35" stroke-linejoin="round"/>
<path d="M500,450 L503,449.5 L506,451 L505.5,454 L503,454.8 L500.5,453.5Z" fill="#116827" stroke="#000" stroke-width="1.35" stroke-linejoin="round"/>
<path d="M860.3,193.5 L868.3,194.1 L875.7,193.5 L880.6,192.2 L883,191.6 L881.2,195.3 L878.1,199 L876.3,200.8 L873.8,199 L876.9,197.1 L870.7,196.5 L872,195.3 L864.6,194.7Z" fill="#116827" stroke="#000" stroke-width="1.35" stroke-linejoin="round"/>
<path d="M784.1,216.2 L788.4,214.3 L792.1,215 L792.7,218 L789.7,219.9 L786,220.5Z" fill="#116827" stroke="#000" stroke-width="1.35" stroke-linejoin="round"/>
<path d="M840,220.5 L843.7,216.8 L848.6,213.1 L852.3,211.3 L852.9,214.3 L848.6,216.8 L846.2,220.5 L842.5,222.3Z" fill="#116827" stroke="#000" stroke-width="1.35" stroke-linejoin="round"/>
<path d="M784,215 L787,214 L790,215 L790,220 L787,220.5 L784.5,218.5Z" fill="#116827" stroke="#000" stroke-width="1.35" stroke-linejoin="round"/>
<path d="M772,234L776,242L790,252L801.7,270L804,291.3L797,300.4L788,302.7L778.8,305L769.7,314L751.4,318.7L735.4,318.7L728.6,327.8L724,350.7L721.7,369L719.4,382.7L745,392L762,402L775,395L775,370L790,355L810,340L835,320L845,300L862,270L862,235L845,215L810,225L790,232Z" fill="#888888"/><clipPath id="floodclip"><path d="M772,234L776,242L790,252L801.7,270L804,291.3L797,300.4L788,302.7L778.8,305L769.7,314L751.4,318.7L735.4,318.7L728.6,327.8L724,350.7L721.7,369L719.4,382.7L745,392L762,402L775,395L775,370L790,355L810,340L835,320L845,300L862,270L862,235L845,215L810,225L790,232Z"/></clipPath><g clip-path="url(#floodclip)"><path d="M738.1,335.4L740.1,330.8L740.7,327.7L740.6,323.3M836.0,261.7L835.7,256.5L836.1,253.7L833.4,250.9L832.6,246.1L832.2,243.1L832.6,240.0L833.8,235.7M772.0,322.0L768.6,324.9L766.1,326.4L764.3,330.7L762.2,333.2L758.4,335.3L755.7,335.2M769.6,343.1L765.5,342.1L761.2,341.7L757.3,344.1M723.9,378.2L720.3,380.0L719.0,382.4L716.7,384.5L715.9,388.2L714.4,392.8M793.6,329.9l0.1,0.1M795.5,255.8L799.4,253.0L802.9,252.7L805.7,255.2L807.3,257.9M823.0,263.5L825.6,261.9L828.1,261.2L833.3,261.3L836.9,259.0L840.9,257.6L842.3,255.3L844.6,251.9M782.7,309.4L779.3,312.6L775.7,315.7L771.4,316.8L768.3,320.1L767.2,323.0M780.0,331.6L777.6,333.4L773.6,333.3L769.7,333.8M828.4,276.3L829.1,271.8L830.9,266.8L833.8,263.7L835.8,260.7L840.6,259.5M809.3,248.5L811.6,247.0L815.4,247.1L820.2,246.0L822.7,244.2L826.3,242.1L830.8,241.0L835.1,239.5M754.2,372.9L752.2,376.6L748.9,380.1L743.5,381.1M758.9,334.7L757.8,337.1L756.4,340.7L755.2,345.7M723.5,362.8L719.7,361.7L718.2,359.4L717.1,356.0L716.4,352.8L717.2,347.4L719.1,343.6M833.3,228.6l0.1,0.1M757.1,325.1L759.1,321.6L763.5,320.5L766.6,318.9L769.2,319.1L774.2,320.3L778.7,321.2M753.7,381.4L754.1,378.9L757.5,375.6L758.9,371.8L759.4,366.6L759.1,361.1M761.9,340.4L756.8,340.6L754.1,340.3L751.4,340.4M743.2,339.4L746.9,338.3L750.3,339.0L752.6,342.2L753.8,345.6L753.5,350.3L752.1,352.4M761.8,367.4L758.2,367.3L754.3,364.7L751.6,362.1L747.2,359.7L742.2,358.9M816.4,258.9L819.9,256.8L823.9,255.0L829.3,255.0M833.5,242.5L837.2,243.1L839.7,245.8L843.1,247.2L846.2,246.7M838.3,237.0L833.6,238.1L830.5,237.2L826.9,235.3L824.6,233.3L821.9,230.5M818.3,302.2L816.2,304.7L811.8,306.0L808.7,307.6L806.0,310.6L802.7,312.4M776.6,337.7L778.5,334.8L780.8,333.2L784.8,331.4L788.6,328.3L791.2,327.0M779.1,342.1L776.7,345.1L775.1,347.9M778.6,315.3L779.6,318.8L779.8,322.8L779.1,327.5L780.5,330.4L781.1,333.8L783.2,337.3M733.3,361.6L736.2,362.0L741.3,362.9L744.6,365.1L747.1,368.4L748.9,371.2L752.7,372.4L755.9,372.7L759.2,373.0M730.6,357.8L727.1,358.5L721.9,357.2L717.1,357.9L712.5,359.1L709.0,361.9L705.1,363.4L702.2,365.1M849.8,241.8L847.0,245.1L845.1,249.9M828.1,313.5l0.1,0.1M752.0,337.2L756.0,335.9L759.3,333.9L760.6,331.6L762.9,328.8L764.2,326.3M795.2,255.3L797.7,251.9L801.4,249.8L806.6,250.1M794.7,250.4L790.5,251.5L786.2,252.8L785.0,257.7L782.3,259.2L778.2,259.2M785.7,330.0L781.1,331.2L777.4,331.0L774.2,330.3L770.6,330.1L766.5,329.1L761.7,329.0L757.1,326.9L754.6,325.5M748.9,338.9L748.2,343.3L750.1,347.3L751.5,351.6L753.1,356.6L752.6,359.7L753.4,363.9L751.7,366.7M762.0,327.3L765.0,324.4L767.6,322.4L770.4,319.6L774.8,318.2L777.3,317.0M816.5,291.2L812.0,292.8L808.6,295.1L806.1,297.5L801.6,297.8L798.0,296.9L794.5,295.1L792.6,290.3" fill="none" stroke="#000" stroke-width="3.4000000000000004" stroke-linecap="round" stroke-linejoin="round"/><path d="M783.9,319.7L785.3,315.5L787.1,313.0L788.1,308.5L785.9,303.5M793.4,334.7l0.1,0.1M828.7,289.9L828.7,284.6L828.6,281.0L826.2,276.9L824.0,274.7L822.7,271.9L821.1,269.7L820.5,265.7L819.6,261.2M829.6,276.5L827.3,279.6L825.2,284.0L822.8,288.3L822.3,293.5M802.2,297.4L802.2,294.8L803.8,290.8L806.6,287.1M806.6,311.9l0.1,0.1M774.2,324.0L770.4,327.1L767.1,327.5L763.9,328.1L759.7,329.3L755.4,332.2M773.1,321.4L777.7,319.9L782.6,319.4L785.3,317.4L786.9,312.6L789.7,310.2L791.2,307.8M750.5,377.2L745.3,377.6L740.9,375.4L738.2,371.7L735.4,368.0L732.5,364.4M799.5,245.7L804.8,245.5L808.2,245.8L811.5,246.4L814.4,246.5L818.4,246.2M822.6,260.7L825.5,257.2L829.8,255.8L834.3,254.1M748.5,372.1L744.8,373.7L743.3,377.2L742.6,380.7M732.9,363.2L737.9,364.7L740.8,366.3L745.5,366.8L750.0,365.9L752.8,366.7L756.3,367.8L759.4,367.4L762.6,368.1M758.3,394.8l0.1,0.1M786.7,246.6L790.4,246.2L794.0,246.2L798.1,246.9L801.1,248.2L803.7,248.6L806.9,251.1M729.9,384.3L728.5,388.6L725.9,391.2L722.8,393.1L721.1,397.2M741.3,371.4L743.9,369.0L747.3,367.4L750.8,365.8L754.7,365.8L757.5,362.6M799.7,248.0L797.4,249.7L795.7,253.4L793.2,256.2M821.0,306.4L818.9,310.6M770.6,325.0L775.1,323.2L780.4,323.2L783.9,326.0L787.0,328.9M732.6,376.3L736.1,373.0L738.6,371.0L743.7,371.6L746.9,371.8L750.1,374.3L755.3,374.7M738.1,353.7L739.8,351.1L742.4,349.9L745.9,347.4L750.5,347.1M778.3,307.4L777.1,311.8L776.5,314.6L776.6,320.0L774.8,322.3L773.6,325.5L772.3,327.8L768.2,329.6M807.3,269.3L811.3,269.8L814.9,269.2L817.9,267.5L821.6,266.5L824.6,264.5M798.9,253.3L802.1,253.0L805.1,251.6L809.2,250.7L814.5,251.8L817.4,253.7L819.9,256.2L821.9,259.1M732.5,378.2L731.0,382.1L729.4,385.2L725.1,388.2L722.7,390.8L719.1,393.1L715.3,395.1L713.1,396.6L710.5,401.3M794.4,313.2L792.5,316.6M742.8,336.5L745.1,333.4L748.5,331.7L751.0,331.0M764.4,375.7L766.6,372.6M734.5,350.7L731.7,349.9L728.8,348.1L725.7,346.4L722.6,346.4L717.9,345.7L713.1,344.0M829.4,236.0L825.8,238.1L823.5,241.1L821.6,244.0L817.9,246.4L816.1,248.4M842.4,253.3L840.7,255.5L840.4,259.1L837.5,261.7L836.1,266.4L834.7,270.9M731.3,380.0L730.9,376.8L729.0,373.5L725.7,372.5L722.9,371.1L718.3,371.0L715.4,372.4L711.8,373.1L708.8,372.1M742.1,331.2L738.2,333.6L736.3,336.4L735.5,339.2L736.4,341.8L736.7,345.7L735.7,348.5M833.7,238.4L832.3,242.0L827.3,243.2L823.6,243.9L818.6,245.6L815.7,247.8L815.4,252.5L813.5,255.1L813.0,259.0M739.3,362.6L737.7,365.8L734.3,368.0L729.3,368.7L724.4,369.7L722.3,371.4L721.1,374.7L718.7,377.5M820.0,261.8L819.6,257.8L817.7,253.7L816.2,251.3L815.2,248.1M835.3,228.1L831.3,227.5M821.3,294.3L817.4,293.9L813.8,293.9L809.6,293.4L805.7,295.3L801.7,297.2L799.1,301.2L796.1,303.5L792.4,302.9M755.2,365.9L755.1,370.4L757.2,374.5L758.9,378.7M752.9,323.3L754.8,318.7L756.6,314.7L757.4,311.2M738.2,382.4L733.8,384.4L731.2,386.6L729.2,389.6M809.7,302.7L812.0,298.2L817.1,296.9L821.6,297.1M769.5,315.2L773.3,314.2L776.0,313.5L779.3,312.4M783.8,319.4L783.1,315.3L782.0,310.4L783.2,308.0L782.7,303.3L783.2,299.3L782.0,296.2L782.8,291.3M735.3,386.8L731.4,385.3L729.2,382.6L728.1,379.3L726.4,376.0L724.4,373.7L724.2,369.7L724.0,366.5M752.2,355.1L749.8,354.4L747.2,351.3L744.4,348.9L741.8,346.2L738.4,344.4L735.2,343.7L732.1,340.8M770.5,324.2L767.4,324.9L763.1,324.6L758.7,326.2M821.6,295.9L818.9,298.8L817.1,301.4L816.4,304.0L814.7,307.8M844.0,244.9L847.0,245.6M747.6,346.8L746.3,352.0L745.3,355.2L744.5,360.4L740.7,364.2L735.7,365.0L731.7,366.5L727.4,367.4L724.4,371.0M756.8,324.5L759.6,322.1L761.4,319.5L764.2,316.6L765.5,313.5L766.5,308.6M816.0,249.8L810.6,250.5L805.6,250.6L800.8,252.9L798.4,256.2L798.7,259.2L797.9,261.7M750.7,364.4L749.4,367.3L749.5,371.7L750.3,376.0M778.9,316.0L779.6,311.0L781.3,307.7L784.5,306.8L787.7,306.7L792.5,305.2L795.0,302.3M799.2,308.0L802.0,305.8L805.6,304.8L809.3,303.2L812.5,304.1L817.2,303.1L822.1,303.5L825.3,305.8M750.1,371.0L754.4,369.7L758.4,367.9L762.0,366.2M814.8,296.6L819.9,295.3L823.4,294.3L825.2,290.4M827.3,313.4l0.1,0.1M751.2,330.9L754.2,330.8L759.0,331.1L762.4,332.1L767.5,332.0L770.8,329.5L775.5,328.8M789.5,314.7L786.6,317.8L786.2,322.3L788.2,325.2M782.7,322.6L783.2,326.9L784.3,331.7L783.9,336.3L782.5,339.7L780.2,344.6L776.0,346.1M796.9,311.3L794.9,315.0M729.8,357.5L729.1,354.2L730.3,349.6L729.5,345.0L727.3,343.1L723.6,341.3L720.4,340.7L716.2,342.0M723.4,379.0L726.5,375.2L726.9,371.9L726.3,368.9L726.2,365.9M747.7,319.1L746.1,322.0L742.1,323.2L738.9,323.7L733.9,323.0L730.4,322.9L725.8,323.7L722.8,323.5L720.3,320.9M809.6,302.6L812.7,300.0L813.6,295.9L816.4,291.7L817.4,287.8L819.6,283.6L821.8,280.4M730.7,341.8L734.4,339.3L736.5,335.1L737.1,330.1M788.3,239.7l0.1,0.1M804.2,264.1L801.3,265.2L798.4,266.4L794.0,268.3L792.3,270.8L789.9,272.7L786.9,276.4L782.3,277.9L779.3,280.1M785.8,319.9L789.7,318.4L791.8,315.2L795.2,314.6L797.5,311.8L800.2,311.3M732.7,380.3L735.7,377.5L737.8,374.7L739.7,372.1L739.6,368.0L739.8,362.6L741.6,360.0L745.9,358.2L750.6,356.6M787.0,238.8L785.9,244.0L787.4,248.6L789.1,253.5L787.7,256.3L786.3,261.3L784.3,265.5L784.1,268.2L785.0,272.8M732.3,372.3L731.1,377.5L732.2,380.8L733.0,385.7L735.6,388.4L738.4,390.7L739.9,393.2M804.7,296.8L805.0,302.1L805.1,306.0L807.6,309.9L811.6,310.9M790.9,249.0L790.1,251.5L787.6,255.1L785.4,258.8L782.2,262.0L780.0,264.5L775.2,267.1M810.6,280.2L814.9,280.0L819.1,282.9L821.3,285.0M806.7,282.9L802.4,282.5L797.5,280.9L795.3,278.8L792.7,275.2L789.9,272.6L786.5,272.4M737.1,326.8L734.2,328.2L732.2,330.3L728.9,331.0L725.7,331.6L722.9,333.7L718.3,335.1L713.3,335.9M725.4,379.6L728.5,377.1L731.1,375.5L733.2,371.3M759.5,318.5L757.5,321.3L754.1,325.0L752.8,328.4M802.9,299.4L798.6,301.4L793.6,301.4L790.7,300.0L786.0,300.6M758.1,330.3L761.1,330.1L764.2,328.5L767.9,325.3L771.6,324.3L774.8,321.1L776.5,317.9L776.6,315.2M780.0,240.7L784.6,238.8M811.6,280.6L813.9,277.0L814.5,272.3L816.3,268.9L817.0,266.4L818.3,262.4L821.7,260.4L822.7,256.1L825.7,254.1M744.1,323.6L746.0,320.6L749.3,319.3L753.8,319.3L756.4,317.1L760.2,313.7M761.2,322.6L763.7,318.7L767.1,315.4L770.8,312.5L772.2,309.6L774.6,305.9" fill="none" stroke="#000" stroke-width="4.6" stroke-linecap="round" stroke-linejoin="round"/><path d="M778.9,327.4L774.3,330.4L771.2,331.2L766.5,330.3L763.2,330.1L758.9,329.6L756.2,328.1L753.7,323.6L751.3,322.1M740.2,353.6L738.3,356.5L735.0,359.0L733.0,362.9L728.4,363.6M813.3,272.5L818.1,272.2L821.5,270.7L824.8,268.8L827.4,266.2L830.2,264.2L832.5,260.9L835.9,259.1M795.0,241.4L792.4,243.6L790.4,248.0L788.0,251.2M796.8,304.9L799.3,302.1L800.9,299.4L804.3,297.7L807.1,296.9L811.3,294.8L814.0,294.0L815.9,291.1L820.4,290.5M786.6,335.4l0.1,0.1M808.9,286.6L807.0,290.1L807.1,295.6L807.7,298.4L808.1,301.5L808.4,306.3L808.4,309.3M740.7,321.2L742.2,324.1L743.5,328.5L745.1,332.3L744.7,335.9L743.3,340.1M771.0,328.2L775.5,330.2L777.0,333.4L778.2,337.8L781.9,339.6L786.0,340.6M807.5,274.9L810.4,272.7L814.2,271.3L816.8,267.4M730.4,363.1L727.5,364.5L724.6,367.8L721.1,371.5L719.0,374.8L717.7,377.5L718.5,380.4M727.8,343.4L726.1,347.7L725.9,353.0L727.2,356.7M731.0,378.5L732.0,375.2L735.8,371.8L739.7,369.4L741.4,364.9L742.1,362.1L740.0,358.7L739.1,354.3L740.3,349.7M741.9,321.1L738.0,321.8L734.6,320.8L731.9,318.9L727.9,317.7L723.5,314.7L721.0,311.9M737.5,349.1L739.3,344.5L740.7,342.1L742.2,338.8L746.4,337.7M786.6,241.3l0.1,0.1" fill="none" stroke="#000" stroke-width="6.2" stroke-linecap="round" stroke-linejoin="round"/></g><path d="M738.1,335.4L740.1,330.8L740.7,327.7L740.6,323.3M836.0,261.7L835.7,256.5L836.1,253.7L833.4,250.9L832.6,246.1L832.2,243.1L832.6,240.0L833.8,235.7M772.0,322.0L768.6,324.9L766.1,326.4L764.3,330.7L762.2,333.2L758.4,335.3L755.7,335.2M769.6,343.1L765.5,342.1L761.2,341.7L757.3,344.1M723.9,378.2L720.3,380.0L719.0,382.4L716.7,384.5L715.9,388.2L714.4,392.8M793.6,329.9l0.1,0.1M795.5,255.8L799.4,253.0L802.9,252.7L805.7,255.2L807.3,257.9M823.0,263.5L825.6,261.9L828.1,261.2L833.3,261.3L836.9,259.0L840.9,257.6L842.3,255.3L844.6,251.9M782.7,309.4L779.3,312.6L775.7,315.7L771.4,316.8L768.3,320.1L767.2,323.0M780.0,331.6L777.6,333.4L773.6,333.3L769.7,333.8M828.4,276.3L829.1,271.8L830.9,266.8L833.8,263.7L835.8,260.7L840.6,259.5M809.3,248.5L811.6,247.0L815.4,247.1L820.2,246.0L822.7,244.2L826.3,242.1L830.8,241.0L835.1,239.5M754.2,372.9L752.2,376.6L748.9,380.1L743.5,381.1M758.9,334.7L757.8,337.1L756.4,340.7L755.2,345.7M723.5,362.8L719.7,361.7L718.2,359.4L717.1,356.0L716.4,352.8L717.2,347.4L719.1,343.6M833.3,228.6l0.1,0.1M757.1,325.1L759.1,321.6L763.5,320.5L766.6,318.9L769.2,319.1L774.2,320.3L778.7,321.2M753.7,381.4L754.1,378.9L757.5,375.6L758.9,371.8L759.4,366.6L759.1,361.1M761.9,340.4L756.8,340.6L754.1,340.3L751.4,340.4M743.2,339.4L746.9,338.3L750.3,339.0L752.6,342.2L753.8,345.6L753.5,350.3L752.1,352.4M761.8,367.4L758.2,367.3L754.3,364.7L751.6,362.1L747.2,359.7L742.2,358.9M816.4,258.9L819.9,256.8L823.9,255.0L829.3,255.0M833.5,242.5L837.2,243.1L839.7,245.8L843.1,247.2L846.2,246.7M838.3,237.0L833.6,238.1L830.5,237.2L826.9,235.3L824.6,233.3L821.9,230.5M818.3,302.2L816.2,304.7L811.8,306.0L808.7,307.6L806.0,310.6L802.7,312.4M776.6,337.7L778.5,334.8L780.8,333.2L784.8,331.4L788.6,328.3L791.2,327.0M779.1,342.1L776.7,345.1L775.1,347.9M778.6,315.3L779.6,318.8L779.8,322.8L779.1,327.5L780.5,330.4L781.1,333.8L783.2,337.3M733.3,361.6L736.2,362.0L741.3,362.9L744.6,365.1L747.1,368.4L748.9,371.2L752.7,372.4L755.9,372.7L759.2,373.0M730.6,357.8L727.1,358.5L721.9,357.2L717.1,357.9L712.5,359.1L709.0,361.9L705.1,363.4L702.2,365.1M849.8,241.8L847.0,245.1L845.1,249.9M828.1,313.5l0.1,0.1M752.0,337.2L756.0,335.9L759.3,333.9L760.6,331.6L762.9,328.8L764.2,326.3M795.2,255.3L797.7,251.9L801.4,249.8L806.6,250.1M794.7,250.4L790.5,251.5L786.2,252.8L785.0,257.7L782.3,259.2L778.2,259.2M785.7,330.0L781.1,331.2L777.4,331.0L774.2,330.3L770.6,330.1L766.5,329.1L761.7,329.0L757.1,326.9L754.6,325.5M748.9,338.9L748.2,343.3L750.1,347.3L751.5,351.6L753.1,356.6L752.6,359.7L753.4,363.9L751.7,366.7M762.0,327.3L765.0,324.4L767.6,322.4L770.4,319.6L774.8,318.2L777.3,317.0M816.5,291.2L812.0,292.8L808.6,295.1L806.1,297.5L801.6,297.8L798.0,296.9L794.5,295.1L792.6,290.3" fill="none" stroke="#116827" stroke-width="1.6" stroke-linecap="round" stroke-linejoin="round"/><path d="M783.9,319.7L785.3,315.5L787.1,313.0L788.1,308.5L785.9,303.5M793.4,334.7l0.1,0.1M828.7,289.9L828.7,284.6L828.6,281.0L826.2,276.9L824.0,274.7L822.7,271.9L821.1,269.7L820.5,265.7L819.6,261.2M829.6,276.5L827.3,279.6L825.2,284.0L822.8,288.3L822.3,293.5M802.2,297.4L802.2,294.8L803.8,290.8L806.6,287.1M806.6,311.9l0.1,0.1M774.2,324.0L770.4,327.1L767.1,327.5L763.9,328.1L759.7,329.3L755.4,332.2M773.1,321.4L777.7,319.9L782.6,319.4L785.3,317.4L786.9,312.6L789.7,310.2L791.2,307.8M750.5,377.2L745.3,377.6L740.9,375.4L738.2,371.7L735.4,368.0L732.5,364.4M799.5,245.7L804.8,245.5L808.2,245.8L811.5,246.4L814.4,246.5L818.4,246.2M822.6,260.7L825.5,257.2L829.8,255.8L834.3,254.1M748.5,372.1L744.8,373.7L743.3,377.2L742.6,380.7M732.9,363.2L737.9,364.7L740.8,366.3L745.5,366.8L750.0,365.9L752.8,366.7L756.3,367.8L759.4,367.4L762.6,368.1M758.3,394.8l0.1,0.1M786.7,246.6L790.4,246.2L794.0,246.2L798.1,246.9L801.1,248.2L803.7,248.6L806.9,251.1M729.9,384.3L728.5,388.6L725.9,391.2L722.8,393.1L721.1,397.2M741.3,371.4L743.9,369.0L747.3,367.4L750.8,365.8L754.7,365.8L757.5,362.6M799.7,248.0L797.4,249.7L795.7,253.4L793.2,256.2M821.0,306.4L818.9,310.6M770.6,325.0L775.1,323.2L780.4,323.2L783.9,326.0L787.0,328.9M732.6,376.3L736.1,373.0L738.6,371.0L743.7,371.6L746.9,371.8L750.1,374.3L755.3,374.7M738.1,353.7L739.8,351.1L742.4,349.9L745.9,347.4L750.5,347.1M778.3,307.4L777.1,311.8L776.5,314.6L776.6,320.0L774.8,322.3L773.6,325.5L772.3,327.8L768.2,329.6M807.3,269.3L811.3,269.8L814.9,269.2L817.9,267.5L821.6,266.5L824.6,264.5M798.9,253.3L802.1,253.0L805.1,251.6L809.2,250.7L814.5,251.8L817.4,253.7L819.9,256.2L821.9,259.1M732.5,378.2L731.0,382.1L729.4,385.2L725.1,388.2L722.7,390.8L719.1,393.1L715.3,395.1L713.1,396.6L710.5,401.3M794.4,313.2L792.5,316.6M742.8,336.5L745.1,333.4L748.5,331.7L751.0,331.0M764.4,375.7L766.6,372.6M734.5,350.7L731.7,349.9L728.8,348.1L725.7,346.4L722.6,346.4L717.9,345.7L713.1,344.0M829.4,236.0L825.8,238.1L823.5,241.1L821.6,244.0L817.9,246.4L816.1,248.4M842.4,253.3L840.7,255.5L840.4,259.1L837.5,261.7L836.1,266.4L834.7,270.9M731.3,380.0L730.9,376.8L729.0,373.5L725.7,372.5L722.9,371.1L718.3,371.0L715.4,372.4L711.8,373.1L708.8,372.1M742.1,331.2L738.2,333.6L736.3,336.4L735.5,339.2L736.4,341.8L736.7,345.7L735.7,348.5M833.7,238.4L832.3,242.0L827.3,243.2L823.6,243.9L818.6,245.6L815.7,247.8L815.4,252.5L813.5,255.1L813.0,259.0M739.3,362.6L737.7,365.8L734.3,368.0L729.3,368.7L724.4,369.7L722.3,371.4L721.1,374.7L718.7,377.5M820.0,261.8L819.6,257.8L817.7,253.7L816.2,251.3L815.2,248.1M835.3,228.1L831.3,227.5M821.3,294.3L817.4,293.9L813.8,293.9L809.6,293.4L805.7,295.3L801.7,297.2L799.1,301.2L796.1,303.5L792.4,302.9M755.2,365.9L755.1,370.4L757.2,374.5L758.9,378.7M752.9,323.3L754.8,318.7L756.6,314.7L757.4,311.2M738.2,382.4L733.8,384.4L731.2,386.6L729.2,389.6M809.7,302.7L812.0,298.2L817.1,296.9L821.6,297.1M769.5,315.2L773.3,314.2L776.0,313.5L779.3,312.4M783.8,319.4L783.1,315.3L782.0,310.4L783.2,308.0L782.7,303.3L783.2,299.3L782.0,296.2L782.8,291.3M735.3,386.8L731.4,385.3L729.2,382.6L728.1,379.3L726.4,376.0L724.4,373.7L724.2,369.7L724.0,366.5M752.2,355.1L749.8,354.4L747.2,351.3L744.4,348.9L741.8,346.2L738.4,344.4L735.2,343.7L732.1,340.8M770.5,324.2L767.4,324.9L763.1,324.6L758.7,326.2M821.6,295.9L818.9,298.8L817.1,301.4L816.4,304.0L814.7,307.8M844.0,244.9L847.0,245.6M747.6,346.8L746.3,352.0L745.3,355.2L744.5,360.4L740.7,364.2L735.7,365.0L731.7,366.5L727.4,367.4L724.4,371.0M756.8,324.5L759.6,322.1L761.4,319.5L764.2,316.6L765.5,313.5L766.5,308.6M816.0,249.8L810.6,250.5L805.6,250.6L800.8,252.9L798.4,256.2L798.7,259.2L797.9,261.7M750.7,364.4L749.4,367.3L749.5,371.7L750.3,376.0M778.9,316.0L779.6,311.0L781.3,307.7L784.5,306.8L787.7,306.7L792.5,305.2L795.0,302.3M799.2,308.0L802.0,305.8L805.6,304.8L809.3,303.2L812.5,304.1L817.2,303.1L822.1,303.5L825.3,305.8M750.1,371.0L754.4,369.7L758.4,367.9L762.0,366.2M814.8,296.6L819.9,295.3L823.4,294.3L825.2,290.4M827.3,313.4l0.1,0.1M751.2,330.9L754.2,330.8L759.0,331.1L762.4,332.1L767.5,332.0L770.8,329.5L775.5,328.8M789.5,314.7L786.6,317.8L786.2,322.3L788.2,325.2M782.7,322.6L783.2,326.9L784.3,331.7L783.9,336.3L782.5,339.7L780.2,344.6L776.0,346.1M796.9,311.3L794.9,315.0M729.8,357.5L729.1,354.2L730.3,349.6L729.5,345.0L727.3,343.1L723.6,341.3L720.4,340.7L716.2,342.0M723.4,379.0L726.5,375.2L726.9,371.9L726.3,368.9L726.2,365.9M747.7,319.1L746.1,322.0L742.1,323.2L738.9,323.7L733.9,323.0L730.4,322.9L725.8,323.7L722.8,323.5L720.3,320.9M809.6,302.6L812.7,300.0L813.6,295.9L816.4,291.7L817.4,287.8L819.6,283.6L821.8,280.4M730.7,341.8L734.4,339.3L736.5,335.1L737.1,330.1M788.3,239.7l0.1,0.1M804.2,264.1L801.3,265.2L798.4,266.4L794.0,268.3L792.3,270.8L789.9,272.7L786.9,276.4L782.3,277.9L779.3,280.1M785.8,319.9L789.7,318.4L791.8,315.2L795.2,314.6L797.5,311.8L800.2,311.3M732.7,380.3L735.7,377.5L737.8,374.7L739.7,372.1L739.6,368.0L739.8,362.6L741.6,360.0L745.9,358.2L750.6,356.6M787.0,238.8L785.9,244.0L787.4,248.6L789.1,253.5L787.7,256.3L786.3,261.3L784.3,265.5L784.1,268.2L785.0,272.8M732.3,372.3L731.1,377.5L732.2,380.8L733.0,385.7L735.6,388.4L738.4,390.7L739.9,393.2M804.7,296.8L805.0,302.1L805.1,306.0L807.6,309.9L811.6,310.9M790.9,249.0L790.1,251.5L787.6,255.1L785.4,258.8L782.2,262.0L780.0,264.5L775.2,267.1M810.6,280.2L814.9,280.0L819.1,282.9L821.3,285.0M806.7,282.9L802.4,282.5L797.5,280.9L795.3,278.8L792.7,275.2L789.9,272.6L786.5,272.4M737.1,326.8L734.2,328.2L732.2,330.3L728.9,331.0L725.7,331.6L722.9,333.7L718.3,335.1L713.3,335.9M725.4,379.6L728.5,377.1L731.1,375.5L733.2,371.3M759.5,318.5L757.5,321.3L754.1,325.0L752.8,328.4M802.9,299.4L798.6,301.4L793.6,301.4L790.7,300.0L786.0,300.6M758.1,330.3L761.1,330.1L764.2,328.5L767.9,325.3L771.6,324.3L774.8,321.1L776.5,317.9L776.6,315.2M780.0,240.7L784.6,238.8M811.6,280.6L813.9,277.0L814.5,272.3L816.3,268.9L817.0,266.4L818.3,262.4L821.7,260.4L822.7,256.1L825.7,254.1M744.1,323.6L746.0,320.6L749.3,319.3L753.8,319.3L756.4,317.1L760.2,313.7M761.2,322.6L763.7,318.7L767.1,315.4L770.8,312.5L772.2,309.6L774.6,305.9" fill="none" stroke="#116827" stroke-width="2.8" stroke-linecap="round" stroke-linejoin="round"/><path d="M778.9,327.4L774.3,330.4L771.2,331.2L766.5,330.3L763.2,330.1L758.9,329.6L756.2,328.1L753.7,323.6L751.3,322.1M740.2,353.6L738.3,356.5L735.0,359.0L733.0,362.9L728.4,363.6M813.3,272.5L818.1,272.2L821.5,270.7L824.8,268.8L827.4,266.2L830.2,264.2L832.5,260.9L835.9,259.1M795.0,241.4L792.4,243.6L790.4,248.0L788.0,251.2M796.8,304.9L799.3,302.1L800.9,299.4L804.3,297.7L807.1,296.9L811.3,294.8L814.0,294.0L815.9,291.1L820.4,290.5M786.6,335.4l0.1,0.1M808.9,286.6L807.0,290.1L807.1,295.6L807.7,298.4L808.1,301.5L808.4,306.3L808.4,309.3M740.7,321.2L742.2,324.1L743.5,328.5L745.1,332.3L744.7,335.9L743.3,340.1M771.0,328.2L775.5,330.2L777.0,333.4L778.2,337.8L781.9,339.6L786.0,340.6M807.5,274.9L810.4,272.7L814.2,271.3L816.8,267.4M730.4,363.1L727.5,364.5L724.6,367.8L721.1,371.5L719.0,374.8L717.7,377.5L718.5,380.4M727.8,343.4L726.1,347.7L725.9,353.0L727.2,356.7M731.0,378.5L732.0,375.2L735.8,371.8L739.7,369.4L741.4,364.9L742.1,362.1L740.0,358.7L739.1,354.3L740.3,349.7M741.9,321.1L738.0,321.8L734.6,320.8L731.9,318.9L727.9,317.7L723.5,314.7L721.0,311.9M737.5,349.1L739.3,344.5L740.7,342.1L742.2,338.8L746.4,337.7M786.6,241.3l0.1,0.1" fill="none" stroke="#116827" stroke-width="4.4" stroke-linecap="round" stroke-linejoin="round"/><path d="M522.5,460.6L523.0,462.7L520.7,463.6L519.6,461.7L521.1,460.3ZM512.0,482.2L511.9,483.5L511.3,485.2L509.4,484.7L508.1,483.1L509.2,481.3L511.0,481.0ZM512.9,475.2L512.5,473.7L512.7,472.7L513.4,471.4L514.7,472.4L515.0,473.7L515.8,475.5L514.2,475.1ZM513.1,487.4L513.5,488.0L513.7,488.7L513.5,489.6L512.6,488.9L512.0,488.6L511.9,487.8L512.5,487.6ZM492.8,483.9L492.5,482.1L493.6,481.2L494.4,481.1L494.8,482.3L494.0,483.2ZM552.5,450.0L554.5,449.1L553.9,451.6L552.4,452.9L551.6,452.0ZM549.3,450.0L550.4,450.5L550.6,451.7L549.9,452.4L548.9,453.0L547.9,452.0L548.4,450.7ZM495.6,499.5L494.8,498.0L495.4,496.4L497.0,497.8L497.5,499.4ZM434.1,494.8L434.1,496.5L432.8,497.3L431.2,496.0L432.5,493.7ZM531.9,471.9L531.0,473.4L529.2,472.6L529.1,470.9L529.8,468.8L531.5,470.5ZM851.2,260.8L852.2,262.1L850.5,263.4L849.2,263.7L848.4,263.0L849.2,261.7ZM861.8,216.6L863.0,215.7L863.7,217.6L862.7,218.5L861.1,218.1ZM850.2,218.4L849.7,216.9L850.6,216.1L851.8,216.4L852.0,218.3ZM858.5,239.7L858.7,241.0L858.5,241.9L857.9,242.9L856.6,243.2L855.1,243.1L856.1,241.6L856.7,240.2ZM859.0,229.6L860.3,228.6L862.3,228.7L861.6,230.7L860.5,231.8L858.6,231.6ZM856.1,258.2L857.4,257.9L857.8,259.2L857.3,260.0L856.6,260.8L855.5,260.3L855.1,259.0ZM851.8,237.3L851.0,239.6L849.5,239.9L847.9,239.1L847.6,236.7L849.7,236.2ZM858.4,250.9L859.1,252.6L858.4,253.7L856.9,254.3L856.4,252.8L856.5,251.1Z" fill="#116827" stroke="#000" stroke-width="0.9" stroke-linejoin="round"/><path d="M658.4,395.8L657.0,396.4L654.9,395.9L655.5,393.6L656.8,392.2L659.3,391.7L659.9,394.3ZM627.1,435.8L629.8,438.9L627.7,441.9L624.7,443.8L623.5,440.4L624.2,438.1ZM656.8,394.0L657.6,391.9L659.8,391.6L661.0,392.5L662.9,393.9L660.5,394.9L658.6,395.1ZM684.0,404.1L685.6,406.1L686.0,408.2L683.9,408.6L683.2,406.4ZM679.9,397.9L682.0,398.0L682.7,399.9L681.9,402.0L679.6,401.6L678.5,399.7ZM684.2,416.7L682.7,418.3L681.7,417.1L682.5,415.2L684.8,413.6ZM703.3,410.6L702.9,411.2L701.9,411.9L701.4,411.5L701.9,410.6L702.4,409.8L703.4,409.3L703.8,409.8ZM659.7,393.1L660.8,391.8L662.6,392.2L663.1,393.7L661.9,394.7L659.9,394.7ZM645.9,393.4L646.9,394.4L647.5,395.5L646.8,395.9L645.5,395.4L645.6,394.2ZM625.9,417.2L628.0,420.2L625.9,422.7L622.3,421.7L623.1,418.4ZM653.2,435.6L654.5,436.1L655.6,436.9L655.5,438.4L654.0,439.9L652.9,438.2L651.5,436.7ZM692.1,391.8L692.1,394.7L689.7,395.2L688.6,392.2L689.6,390.1ZM674.7,432.8L673.4,433.2L671.7,432.6L671.3,430.7L672.1,428.6L674.3,428.7L675.1,430.4L676.8,431.9ZM658.8,395.0L657.6,397.6L654.9,397.7L652.9,395.7L654.6,393.6L656.9,393.1ZM674.3,393.6L674.3,391.5L676.1,390.8L678.7,391.7L678.2,394.1L676.3,395.9ZM635.7,397.0L632.5,393.4L634.5,390.0L637.7,389.0L639.0,392.2L638.9,395.1ZM642.2,436.0L641.6,435.0L642.0,434.1L642.3,433.1L643.2,433.5L644.0,434.0L643.8,435.0L643.4,436.2ZM653.1,400.1L654.4,398.9L655.0,400.7L655.4,402.0L654.8,403.6L653.5,403.3L652.6,402.0ZM674.3,383.8L675.3,383.4L676.4,384.0L676.5,385.6L675.5,386.5L674.4,385.4ZM696.5,423.0L696.9,421.0L697.8,419.8L699.3,418.9L699.9,420.8L700.3,422.1L700.1,424.4L698.0,424.2ZM676.7,421.3L675.8,418.7L677.5,416.9L679.8,415.5L681.6,417.7L681.9,420.5L679.2,420.8ZM636.9,386.6L637.8,384.9L639.0,384.0L640.7,384.9L642.3,386.7L641.5,388.4L640.4,389.9L638.7,388.2ZM672.7,383.4L673.2,385.7L671.9,386.9L670.7,387.7L668.9,387.3L669.3,384.8L669.7,382.6L671.4,380.8ZM650.2,414.7L647.1,414.6L646.6,413.1L648.5,411.1L651.1,412.2ZM697.8,402.0L698.4,404.1L697.4,406.4L696.4,409.4L695.2,408.0L694.2,407.2L694.8,404.8L696.1,403.7ZM638.7,394.0L637.9,394.9L635.8,394.0L636.1,392.7L637.2,392.8ZM702.4,404.6L700.5,403.8L700.7,401.6L702.4,401.5L703.4,402.6ZM679.7,386.6L679.3,385.4L680.5,384.6L681.6,385.4L682.7,386.2L682.1,387.3L681.2,387.9L679.9,387.9ZM644.5,395.5L646.9,394.0L648.5,395.8L649.8,398.3L647.7,400.1L645.1,399.1ZM685.8,422.0L686.5,423.5L684.8,424.6L682.8,425.4L680.6,424.6L679.2,422.9L681.1,421.1L683.9,421.4ZM657.3,398.5L658.8,395.1L660.6,393.8L663.2,391.4L665.6,394.7L665.0,398.7L663.2,402.0L660.5,399.5ZM670.1,411.8L669.7,409.8L670.0,407.7L672.4,407.8L673.3,409.8L672.3,411.3ZM624.8,423.3L624.1,420.9L625.6,419.6L627.2,419.7L628.6,420.8L628.4,422.7L626.9,423.9ZM639.8,405.3L640.8,405.3L641.3,406.2L641.4,407.2L640.1,407.1L639.2,406.2L639.1,405.4ZM642.5,380.2L643.8,380.5L643.5,381.2L642.5,382.0L641.4,381.4L640.6,381.0L641.1,380.3ZM615.5,461.0L616.7,463.0L614.1,464.7L612.2,462.7L613.3,460.8ZM632.7,417.3L635.0,419.9L634.1,422.8L631.9,422.9L630.5,421.3L630.2,418.6ZM648.9,398.5L650.0,396.7L652.3,396.1L654.5,397.9L652.8,399.4L651.0,400.1ZM671.7,393.4L672.4,396.0L670.0,396.7L668.4,394.5L669.3,392.0ZM656.1,434.0L656.0,432.4L656.0,431.2L657.0,430.9L658.1,430.6L659.4,431.5L658.3,432.7L657.5,433.3ZM662.9,437.8L662.6,436.5L662.9,435.2L664.0,434.4L665.0,435.5L664.2,437.5ZM675.1,427.4L676.3,427.6L678.0,428.5L677.3,429.8L676.6,431.4L674.2,430.2L674.5,428.2ZM646.3,403.8L646.9,404.3L646.4,405.8L645.6,406.1L644.8,405.9L645.5,404.3ZM698.6,406.9L699.1,408.0L699.1,409.4L697.5,408.9L696.5,407.9L696.9,406.5ZM673.0,427.6L673.7,425.9L674.9,425.4L675.4,426.9L674.9,428.6L673.9,430.6L672.9,429.5ZM678.9,412.0L677.6,410.8L677.8,408.4L679.0,406.2L680.9,404.3L682.3,405.9L681.6,408.7L680.7,411.4ZM631.1,395.3L634.6,393.5L635.6,397.6L633.2,401.3L630.5,400.1L629.8,398.0ZM659.1,420.8L660.1,423.2L658.8,426.3L656.3,426.1L656.0,423.5L657.2,421.8ZM626.8,399.1L627.7,398.5L629.0,398.2L629.3,400.5L629.4,402.0L628.3,401.9L627.0,401.3ZM617.6,447.7L616.5,445.5L618.6,443.3L622.2,443.6L623.5,445.9L623.5,448.6L620.1,447.9ZM631.9,405.4L633.3,403.0L634.7,402.0L637.0,402.1L636.2,404.8L634.1,406.2ZM678.4,395.5L676.9,396.1L676.2,393.4L676.5,390.7L678.5,391.6L678.9,393.9ZM694.3,388.5L693.2,387.1L694.6,386.5L695.9,385.9L696.7,387.3L697.3,388.4L696.7,389.7L695.1,389.9ZM644.1,410.5L643.0,410.0L642.3,408.5L642.8,407.7L643.5,407.7L644.6,408.4L644.9,410.2ZM652.5,400.5L651.8,397.9L653.9,397.9L655.5,398.9L655.8,401.1L654.2,401.7ZM694.1,386.8L695.7,387.5L696.5,388.2L697.4,389.6L695.7,389.7L694.5,389.4L694.0,388.3ZM669.7,376.0L671.3,375.8L671.4,377.0L670.8,378.1L669.2,379.8L667.4,379.2L666.8,377.8L668.2,376.4ZM673.5,397.1L672.2,398.7L670.3,399.0L670.4,396.3L672.0,396.2ZM671.8,377.3L672.9,374.1L676.8,375.1L676.7,378.1L677.0,380.8L673.7,380.8L669.8,380.2ZM677.8,417.2L678.8,415.2L680.9,413.8L682.9,415.0L681.3,417.2L679.2,418.6ZM637.8,445.8L636.8,446.8L635.9,447.9L634.5,447.8L634.9,446.6L635.5,445.5L636.9,445.2ZM666.3,409.8L667.6,411.5L666.5,413.6L665.2,414.1L663.2,414.8L662.9,412.0L664.4,409.8ZM642.2,420.4L640.9,416.9L642.7,415.2L645.5,415.7L644.9,418.7ZM618.3,440.4L615.4,437.7L613.8,435.0L615.7,433.2L618.4,435.2L621.3,438.5ZM645.8,397.5L647.5,397.9L648.3,398.9L648.5,400.5L646.3,400.3L645.1,398.8ZM662.5,416.8L658.7,416.6L656.0,414.6L658.9,411.7L663.0,412.3ZM633.4,442.3L635.5,442.4L637.5,443.2L637.3,446.1L634.6,445.9L633.3,444.4ZM671.3,398.8L669.3,399.2L668.4,397.4L670.3,396.0L672.1,397.2ZM667.2,412.7L666.1,409.7L667.3,406.8L669.5,405.8L668.9,409.2ZM662.6,392.4L661.9,393.8L660.8,392.6L660.2,391.6L659.9,389.9L661.5,390.3L662.8,389.9L662.7,391.4ZM687.3,387.1L687.6,385.3L689.4,386.4L690.3,387.6L690.8,389.3L689.4,390.7L687.2,389.1ZM632.3,422.8L632.3,424.3L631.4,425.3L630.6,424.2L630.9,423.3ZM631.2,438.2L631.1,436.0L632.9,433.4L635.3,434.1L636.3,436.6L633.4,437.9ZM665.7,406.1L665.4,407.6L664.3,408.4L662.8,407.2L664.0,405.6ZM681.2,396.9L682.1,395.9L685.1,396.1L685.0,398.0L682.7,398.8ZM625.7,457.6L623.6,458.1L622.6,456.9L622.9,455.5L625.0,455.8ZM675.3,383.1L677.5,381.0L679.9,378.8L681.0,380.3L679.3,382.9L677.8,384.3L675.7,385.2ZM667.5,391.0L669.0,387.9L672.2,388.2L672.8,391.1L672.2,394.4L668.5,394.7ZM667.4,433.8L668.8,430.2L672.2,431.8L671.8,435.1L669.1,438.0ZM633.9,451.8L634.4,452.5L633.9,454.0L632.8,453.8L633.0,452.3ZM653.2,435.8L653.9,436.9L653.1,437.7L652.3,437.5L651.6,437.3L651.4,436.2L652.0,435.7L652.5,435.3ZM657.4,421.7L654.2,420.9L653.5,417.6L656.3,415.5L658.7,417.2L660.0,419.8ZM654.1,441.2L652.2,442.3L651.0,441.6L650.5,438.7L652.3,437.6L653.4,438.5ZM637.5,416.4L639.5,416.4L640.5,417.7L640.9,418.9L640.8,420.8L639.1,421.1L637.8,420.1L637.2,418.6ZM649.2,438.4L651.9,437.0L653.1,440.1L651.0,442.5L648.0,441.1ZM643.2,389.0L643.0,386.8L644.9,386.2L647.0,386.1L646.4,388.6L646.5,390.3L645.0,391.0L643.4,390.9ZM671.1,434.7L669.4,432.5L669.1,429.3L672.2,428.7L674.5,428.9L676.6,430.6L674.8,432.6L673.8,435.0ZM645.4,394.8L642.3,396.0L639.2,397.4L637.7,394.6L639.2,392.2L641.8,390.4L644.0,392.2ZM679.7,425.0L677.7,426.4L676.1,424.8L674.7,423.2L676.0,421.6L678.0,420.7L678.9,422.8ZM641.8,400.0L641.0,401.4L639.3,401.7L638.5,400.1L638.0,398.3L639.7,397.1L641.8,398.0ZM618.6,461.0L620.2,462.0L619.0,463.3L617.3,464.1L616.9,462.1L617.1,460.6ZM699.0,411.1L699.6,410.1L700.6,409.9L702.3,410.1L702.2,412.4L701.2,413.9L699.6,414.9L698.6,412.8ZM628.3,407.7L630.8,406.7L632.5,407.5L634.5,408.8L632.8,410.8L630.4,412.2L628.4,410.4ZM691.9,423.9L690.4,422.9L690.0,421.1L690.9,419.8L692.5,420.7L692.7,422.5ZM662.3,429.5L662.1,431.2L659.5,431.8L658.4,430.1L660.5,428.9ZM690.4,403.9L692.5,402.8L695.4,402.9L695.8,405.0L693.5,406.6L691.7,405.2ZM638.9,432.4L638.2,433.8L636.8,432.7L635.6,430.8L635.9,428.9L637.2,429.2L638.5,430.2ZM659.9,388.4L657.7,387.4L659.9,384.7L662.9,384.4L662.6,387.4ZM662.6,413.4L665.0,414.7L665.7,416.4L665.7,418.7L663.3,420.1L661.6,418.2L661.3,416.1ZM663.3,420.5L664.7,419.0L666.9,418.9L668.2,420.9L665.5,423.4L662.9,422.6ZM695.0,392.9L693.4,392.5L693.2,391.2L694.4,390.4L695.8,389.9L697.3,390.6L695.9,391.8ZM641.9,404.3L642.9,403.6L644.7,403.8L645.3,406.3L643.3,407.1L641.5,406.0ZM649.3,431.9L648.2,430.4L646.6,428.7L648.6,426.8L651.3,426.3L652.3,428.1L654.3,429.9L651.2,430.7ZM650.2,386.8L652.1,385.4L655.2,385.3L655.6,387.8L653.9,389.3L651.4,388.6ZM656.6,402.6L654.8,403.3L653.4,403.1L653.5,401.3L654.2,399.2L656.1,399.1L657.2,400.4ZM658.5,425.9L657.7,427.5L656.4,427.3L655.7,426.1L656.7,424.4L658.4,424.1ZM638.3,428.7L637.7,432.0L634.4,433.0L633.4,428.5L635.8,426.3ZM662.3,434.8L663.0,436.6L662.8,438.8L661.1,440.4L659.3,440.6L659.2,438.7L658.6,436.9L660.4,435.8ZM680.0,417.0L679.8,414.4L683.1,414.6L687.5,415.5L686.3,419.5L681.5,420.1ZM639.6,440.0L635.3,440.7L634.2,436.6L636.0,433.1L639.6,435.7ZM672.5,422.3L672.3,424.1L671.0,424.9L669.1,425.8L669.1,423.8L669.5,422.0L671.0,422.1ZM674.8,387.0L675.8,385.0L677.7,386.5L679.1,388.1L678.8,390.3L676.7,390.9L674.4,390.6L673.1,388.5ZM691.1,415.8L688.9,416.9L686.9,417.0L687.0,414.6L689.4,414.2ZM675.5,380.6L677.0,379.6L678.8,380.8L678.6,383.0L676.2,382.7L674.2,382.0ZM645.3,422.8L646.7,423.6L645.6,425.3L644.6,427.2L642.9,426.5L642.2,425.2L642.9,423.7L643.9,421.9ZM623.9,422.7L625.0,418.8L628.3,418.9L631.2,420.3L631.1,424.2L628.4,426.3L625.1,426.3ZM656.8,389.1L655.5,388.5L656.1,386.2L658.4,385.2L659.6,386.1L658.8,388.3ZM616.5,462.8L615.4,463.3L614.3,463.6L613.4,462.5L613.4,461.3L615.2,461.6ZM654.6,428.3L655.3,426.9L656.7,426.3L659.0,426.2L659.0,428.4L657.0,429.6L655.3,429.5ZM628.9,444.1L629.6,446.3L627.4,448.1L626.3,445.9L626.4,443.0ZM687.6,402.6L686.8,401.4L688.0,401.0L689.1,401.0L689.2,402.2L688.7,403.1ZM636.8,418.9L639.4,415.3L643.6,415.9L643.5,420.3L639.5,423.2L635.4,423.0ZM644.8,422.8L644.2,425.6L642.1,427.2L640.4,426.3L638.4,424.8L640.0,421.5L643.0,421.1ZM664.0,383.0L664.7,382.4L665.8,382.8L666.5,383.8L667.3,385.3L666.2,385.2L664.9,384.4ZM669.9,408.9L670.1,407.2L671.3,406.4L672.8,407.0L672.5,408.6L671.4,409.0ZM673.9,378.2L676.6,376.1L677.8,380.1L676.0,382.1L673.6,380.9ZM624.2,406.4L621.8,406.7L619.8,405.8L620.5,403.5L621.9,401.8L624.5,402.9ZM665.8,406.4L664.2,407.1L663.2,405.9L663.5,403.8L664.6,401.5L666.0,402.5L666.7,403.4L666.8,405.0ZM618.5,425.8L620.3,423.8L622.4,425.3L624.1,427.0L621.7,428.6L619.0,429.2L616.9,427.8ZM676.8,397.6L675.6,394.3L679.0,393.0L682.3,393.3L683.3,396.6L679.9,397.6ZM707.4,214.0L707.6,216.7L705.7,217.7L704.5,216.8L704.3,214.3ZM746.3,206.8L747.0,207.4L746.7,208.3L745.9,208.7L745.1,208.5L744.3,207.6L745.2,206.4ZM722.2,204.0L724.7,203.9L727.1,205.5L726.4,208.1L725.0,209.4L723.3,208.3L722.7,206.6ZM715.1,218.3L713.8,217.5L713.1,215.7L714.2,213.1L715.7,213.0L716.5,213.5L717.8,214.4L716.3,216.2ZM709.1,225.1L707.4,225.0L706.6,223.9L706.7,222.9L707.6,221.8L709.0,222.4L709.6,223.6ZM707.0,202.1L708.7,203.5L710.1,205.5L707.7,206.2L705.6,204.8L705.0,202.8ZM719.1,217.2L721.0,217.2L723.2,218.3L722.5,220.2L720.1,220.5L718.6,220.0L716.1,219.3L717.6,217.9ZM695.0,236.5L696.7,237.1L697.9,238.5L697.0,240.5L695.0,240.6L694.8,238.6ZM705.2,224.1L704.7,226.3L703.3,227.0L702.8,224.4L701.7,222.5L702.9,221.2L703.9,221.6L705.1,221.8ZM701.9,231.1L703.2,231.2L704.3,231.5L705.4,232.7L705.3,233.7L704.7,234.2L703.5,233.9L701.8,232.5ZM717.4,227.9L718.8,228.9L719.3,230.4L718.3,231.6L717.1,230.8L716.2,229.4ZM727.3,212.2L725.9,212.5L725.3,210.7L725.7,209.2L726.9,210.0ZM705.4,220.3L706.2,219.8L706.8,219.7L706.9,220.9L707.1,222.3L706.3,222.4L705.8,221.6ZM717.2,217.9L719.0,215.7L722.7,215.1L721.7,218.4L719.6,219.9ZM878.9,468.5L877.3,469.0L876.0,468.5L875.5,467.3L876.3,466.1L877.3,464.9L878.4,465.7L879.0,466.7ZM877.9,471.8L876.1,471.4L874.8,469.5L876.4,468.1L878.4,469.6L879.8,471.3ZM870.1,463.8L871.7,462.4L873.9,463.6L873.8,465.2L872.7,465.8L871.0,465.7ZM892.6,456.6L893.6,457.2L893.4,458.2L893.1,459.4L891.7,459.7L891.4,458.3L891.1,456.7ZM884.8,469.2L883.6,470.0L882.2,469.5L882.7,467.8L883.3,466.6L884.3,467.3L885.7,467.9ZM873.6,462.6L872.2,461.2L873.2,459.0L875.0,459.4L875.8,460.9L875.4,463.0ZM876.6,467.2L877.3,470.5L876.0,473.0L873.8,473.3L872.9,470.7L871.3,468.7L872.3,466.2L874.3,467.2ZM879.6,461.2L880.4,462.4L878.5,463.1L876.5,462.4L876.5,461.3L877.8,460.7ZM656.3,378.7L657.8,378.0L659.5,379.3L659.6,381.1L658.0,381.9L656.8,380.7L655.7,379.8ZM648.1,383.8L647.7,385.4L645.6,386.2L644.9,384.4L645.6,383.3L646.8,383.2ZM640.7,375.2L638.4,374.9L637.3,372.3L638.6,370.8L640.5,370.1L640.6,372.6ZM622.4,384.0L621.5,382.6L622.9,382.0L624.0,382.5L623.7,383.6ZM650.1,382.4L648.4,382.7L648.0,380.9L650.0,379.5L651.0,380.8ZM782.4,409.2L783.7,411.0L784.2,412.1L784.3,413.9L782.8,413.9L781.5,412.6L781.7,411.0ZM796.1,419.8L796.2,420.8L795.3,421.5L794.2,421.2L794.2,420.0L795.2,419.4ZM787.8,416.5L787.3,417.7L786.4,418.0L785.1,417.7L785.5,416.1L785.8,414.6L786.9,415.6ZM789.2,417.0L790.6,417.2L791.9,418.2L791.5,419.5L790.7,420.9L789.4,419.7L788.2,419.3L787.7,417.7ZM801.6,410.8L803.2,410.7L803.5,412.3L803.0,413.5L801.9,414.0L800.4,414.2L800.6,412.6L800.1,411.1ZM538.3,437.2L540.4,436.3L541.6,437.2L543.2,438.1L541.3,439.5L539.4,440.6L539.0,438.9ZM572.8,441.1L573.4,440.8L574.2,441.2L574.8,441.8L574.4,442.5L573.5,442.1L572.9,441.8ZM564.2,438.8L565.8,439.6L565.5,441.3L563.9,441.6L562.5,440.1L562.4,438.1ZM564.5,439.3L563.2,439.6L562.2,438.1L563.3,436.8L564.4,437.0ZM566.9,440.4L567.6,439.7L568.5,440.3L569.3,441.0L568.4,441.8L567.4,441.9L566.7,441.4ZM569.6,438.6L570.7,440.1L569.9,441.4L568.9,441.7L567.4,441.2L567.7,439.1ZM542.6,439.0L541.2,441.3L538.6,440.6L539.4,438.1L541.3,436.3L543.4,437.0ZM542.6,437.3L541.1,438.0L541.7,436.7L541.9,435.4L543.2,435.4L544.2,435.7L544.0,436.8Z" fill="#888888" stroke="#000" stroke-width="1.1" stroke-linejoin="round"/><path d="M826.9,254.0L825.7,256.7L825.5,259.4L825.2,261.3M782.0,237.3L780.2,239.0L777.6,237.7L775.8,235.5L772.2,234.7M775.2,331.0L773.6,332.7L772.5,336.4M732.1,375.6L733.9,377.8L735.4,379.3M786.6,318.4L786.9,314.4L787.9,311.9L790.1,310.2L791.0,307.8M785.9,334.3L782.2,333.3L780.1,333.0M781.7,342.9L783.1,345.3L784.6,347.6L786.0,351.1L786.1,355.0M836.1,266.5L837.1,268.7L836.6,271.8M823.4,259.9L824.5,261.9L825.6,265.0M758.4,324.9L760.7,324.3L761.6,321.2M673.8,421.6L672.1,420.7L670.3,421.4L667.2,421.2L665.1,421.9M665.5,388.5L667.1,391.2L667.4,393.7L668.1,395.9L671.4,396.7M628.8,457.0L627.5,454.2L624.7,453.4M672.0,378.2L673.2,381.4L673.1,385.1L674.9,386.5L677.6,386.8M702.8,395.8L702.8,394.0L703.9,391.7L706.1,389.8M682.5,388.3L681.7,386.2L681.2,382.3L683.2,379.7L684.1,376.2M655.2,429.2L653.0,428.1L650.4,430.2M690.0,409.4L687.6,410.1L686.2,411.2L684.6,410.8M702.7,395.3L706.0,397.0L707.1,400.2L707.7,402.0L708.1,403.9M685.5,386.5L684.1,389.9L683.8,392.7L681.9,394.0M680.9,385.0L682.8,384.0L685.0,382.3L685.4,378.9M640.0,401.4L641.1,398.7L642.5,397.9L645.2,398.3L646.1,400.0M622.9,438.8L623.1,435.8L623.6,432.7M678.2,406.4L681.3,407.3L683.5,409.0L687.5,409.0M627.2,410.1L623.5,411.5L620.4,410.8L618.9,411.3M655.7,440.2L655.7,436.7L657.2,434.5L660.7,433.9M677.2,409.7L676.3,406.1L676.6,404.2M656.6,401.2L652.9,400.1L649.3,399.8L647.8,397.8L647.5,395.9M649.6,428.4L649.7,425.3L648.4,423.3L647.0,422.1L643.4,421.7M650.9,393.0L654.4,393.1L656.4,391.3L659.2,389.0M655.1,420.2L656.5,421.6L656.9,424.4M627.1,445.5L628.8,447.3L631.9,446.7M639.1,421.7L636.9,422.5L635.4,420.3L631.7,419.9L629.7,417.6M652.3,442.1L650.3,443.5L648.1,443.9L647.0,447.0L645.3,449.4M636.9,409.3L633.3,409.0L631.9,410.5L631.3,414.2M688.4,404.2L687.7,402.6L688.6,399.0L687.5,395.9L686.9,392.4M699.0,410.5L695.9,411.6L694.7,413.5L695.5,416.5M648.2,408.2L651.7,406.8L653.7,406.9L656.3,405.4L659.2,403.2M649.5,438.1L653.3,439.0L655.3,439.0L657.5,440.8L659.3,441.2M640.6,420.4L642.4,420.2L644.7,420.2L647.8,421.2M661.3,396.1L664.3,397.9L664.7,401.2M636.1,388.2L637.8,389.3L640.4,389.4M642.7,408.9L641.7,411.6L640.2,413.4L637.6,414.6L634.8,415.1M648.7,437.1L650.9,436.4L652.9,435.4M648.4,409.8L650.6,409.0L653.3,409.5L656.1,410.4M688.1,418.8L690.0,418.3L692.6,419.4L694.0,420.4M674.4,427.0L676.1,425.5L677.6,423.7L680.2,421.3L683.8,420.8M643.5,444.1L646.3,445.8L648.7,447.5M678.6,399.0L680.2,400.3L680.7,402.3M623.9,412.7L623.8,409.8L622.5,408.1L621.2,406.2M633.8,420.6L633.7,423.7L633.7,426.8L632.8,428.4M660.4,390.7L659.0,387.5L659.0,385.2M628.2,452.2L630.2,450.3L630.9,447.7L632.4,446.5L634.0,447.0M687.8,427.5L688.2,430.6L690.2,431.8L691.6,434.8M630.2,403.9L630.2,400.8L628.9,399.2M675.0,428.5L672.1,426.8L669.3,425.2L665.8,425.8L664.1,428.1M701.0,415.2L699.6,412.9L699.6,411.4L700.4,409.2M653.8,377.9L652.2,375.8L650.9,374.4L649.8,371.5L650.1,369.9M627.7,412.0L631.0,412.8L632.4,414.7L631.4,418.3M627.9,451.7L628.8,455.2L631.1,457.8L631.2,460.3M652.0,398.3L654.3,401.5L654.0,404.1M702.0,426.1L702.1,429.9L703.2,431.1L704.3,433.9L706.4,435.1M631.4,445.0L632.6,447.1L634.0,448.9M656.5,391.9L656.7,395.0L659.3,396.1L662.0,398.5L663.3,400.6M672.0,426.9L669.2,425.0L667.6,425.3L665.1,428.2L662.0,429.6M625.2,421.6L627.4,422.6L629.9,423.0M646.3,422.5L642.7,423.6L641.2,425.2L639.9,426.7M644.7,426.7L641.7,426.2L637.8,425.9M674.5,426.8L671.4,427.2L668.2,426.9L664.6,426.6M655.5,421.0L652.6,421.2L650.1,420.5M664.9,427.7L663.4,427.1L661.3,428.1L659.7,429.3M642.2,404.5L642.3,408.1L643.3,411.0M623.2,454.2L625.5,455.7L629.2,454.8L631.9,453.6M657.4,402.9L654.4,403.6L653.1,405.3L652.9,408.7M658.2,397.1L656.1,398.9L654.3,401.6L652.2,403.1L649.4,403.6M637.6,449.8L638.0,453.3L639.1,456.2L640.6,458.9L640.4,461.7M669.7,381.1L672.9,379.5L675.9,379.3L679.8,379.0L683.2,377.6M666.8,420.0L665.3,417.4L664.3,414.5L662.3,412.9M631.9,402.7L635.3,402.7L637.8,401.9L641.3,401.6M653.6,384.5L653.3,380.9L655.2,378.0L657.3,377.6L659.0,375.4M700.1,426.8L698.7,427.6L696.2,428.9L695.7,432.4L694.9,436.0M632.8,395.9L629.9,396.8L628.2,399.2L626.4,400.5M691.7,384.0L690.7,380.7L689.6,377.7M620.9,426.7L618.6,424.1L618.0,422.4L618.4,419.7M684.1,393.2L683.5,394.9L684.5,397.2L686.9,399.0L689.0,399.3M626.1,421.9L626.5,419.1L628.6,418.1M626.3,458.9L623.1,460.0L622.0,461.3L620.6,463.2L620.9,466.0M661.7,399.4L661.4,402.2L662.1,404.4M645.5,431.5L644.7,429.2L642.9,427.9L640.5,426.9M639.4,418.0L638.7,416.0L637.1,413.6L635.8,410.6L633.6,408.8M695.7,399.9L695.6,403.5L693.0,405.1L691.4,407.6M650.9,403.5L653.1,401.9L655.4,401.4L656.8,403.3M663.0,414.2L664.8,415.9L667.3,417.8L669.0,417.8M662.6,406.4L664.6,404.6L666.6,403.8M651.7,436.8L653.9,435.1L655.8,433.7M636.1,406.0L636.0,408.0L635.0,411.5L634.9,414.1M630.2,410.9L628.9,412.9L626.6,415.0L625.8,416.7M671.8,407.5L671.1,409.7L672.6,412.2L672.1,414.3M625.5,412.5L623.4,410.5L623.6,407.0L623.9,403.1L625.2,400.6M629.7,451.3L629.8,447.8L633.0,446.6L633.5,444.9L633.4,441.5M629.0,413.3L627.6,411.8L625.2,411.5M652.3,384.1L651.4,380.5L648.9,378.3L648.3,376.0L648.1,372.1M649.3,429.3L648.4,427.1L646.9,425.2L643.0,424.6M646.0,408.6L645.1,410.5L642.0,411.6M660.3,430.4L658.4,428.6L656.6,427.6L654.7,427.2L652.8,427.4M669.2,404.2L669.8,402.3L671.4,400.4L671.0,397.8L669.8,394.7M696.5,405.2L697.1,409.0L699.0,410.4L701.9,412.7M689.5,425.9L688.3,422.3L685.4,420.4L681.8,419.9M649.8,436.9L647.9,438.7L646.2,439.9L645.0,442.1L645.2,444.6M641.0,428.5L642.9,425.5L646.0,425.2L647.9,425.0L651.1,427.1M629.7,434.8L630.1,436.4L628.5,438.7L628.2,442.2M643.5,440.8L645.2,439.8L648.5,440.1M644.6,422.4L646.6,421.8L648.5,421.8M624.8,440.2L628.2,439.2L629.6,436.7L632.2,435.3L635.4,435.2M660.0,416.9L657.7,418.2L654.7,419.2L652.6,418.7M701.4,412.3L698.8,411.2L695.9,411.6L693.1,409.5M631.2,428.5L631.5,430.8L630.0,432.2L627.9,433.3L625.9,433.3M661.7,399.4L659.2,400.3L657.4,401.1L655.9,399.9M660.5,402.8L656.8,401.8L654.1,402.1L651.6,403.3M687.7,390.3L686.3,393.0L686.1,396.4L686.2,399.8L689.2,401.4M704.6,410.5L702.2,412.1L700.5,413.5M644.8,388.1L643.7,386.9L641.8,383.9L637.9,383.6L635.5,382.7M644.0,427.8L641.2,429.0L637.7,429.7L637.0,431.4L633.5,432.0M693.3,406.4L690.9,405.3L690.6,402.3L691.3,399.1M632.6,404.2L635.6,404.0L638.8,402.8L641.7,401.9M648.7,395.6L647.1,398.0L647.0,401.4L645.9,403.6L646.0,405.5M665.9,395.9L664.2,394.8L660.7,395.2L657.8,395.2L655.8,395.6M684.7,422.6L681.7,422.4L680.0,422.7M631.4,439.0L632.4,441.2L631.9,443.0L632.7,445.8L633.1,447.9M673.5,405.9L673.0,402.2L674.0,400.0L675.5,399.6L678.3,399.6M660.8,408.8L661.9,406.5L661.6,404.2L659.6,402.7M660.2,384.7L662.5,382.5L664.3,380.0M617.3,460.8L614.3,461.5L610.8,460.4M698.8,408.3L701.0,409.1L703.5,410.6L706.4,410.5M641.8,418.4L640.7,416.7L639.7,414.7M632.2,411.0L632.0,409.2L631.2,407.2M622.0,421.0L624.0,423.0L626.2,424.0L626.5,426.5M646.6,418.4L648.4,415.9L651.3,413.5L653.7,412.5M633.3,442.7L631.9,440.0L630.6,436.2L630.2,433.3M631.4,423.8L630.3,426.3L627.6,427.4L626.0,428.6L624.3,430.4M660.4,386.4L657.4,386.0L654.7,384.5M672.2,387.3L673.5,385.7L674.8,383.8L675.7,381.2M653.0,387.8L651.4,388.9L649.5,388.0M669.3,387.0L667.0,388.2L666.1,390.2L663.4,392.1M683.8,416.5L684.4,414.3L684.6,411.7L686.1,410.2M668.7,433.6L670.8,431.6L671.3,429.3M670.2,402.4L668.3,401.3L665.0,399.6M655.4,422.4L654.7,419.1L656.6,417.4L655.5,414.1L654.3,411.6M644.8,417.3L642.8,418.1L639.8,416.7L637.6,416.0M685.8,424.9L687.5,423.1L689.9,421.5L693.8,421.5M688.7,394.4L689.0,391.7L690.6,389.5L693.2,387.2L695.6,387.1M631.5,453.0L631.5,455.8L629.9,457.4L630.0,460.3M641.9,387.7L639.8,388.4L638.7,391.7L637.5,394.0M652.8,429.2L652.4,431.8L653.0,433.5L653.3,437.5L654.2,439.0M621.9,453.2L620.2,454.6L618.2,455.8L616.1,456.8M671.1,395.7L669.3,398.5L667.7,399.4L666.1,401.2L664.2,401.8M650.1,405.9L650.3,403.4L651.9,401.0L651.1,399.1M702.4,396.2L703.3,399.2L704.1,402.7L705.4,405.0L708.2,406.5M694.2,391.4L695.1,394.8L696.3,396.1L696.7,400.0M641.8,430.1L639.3,429.1L638.3,427.1L636.8,425.5L634.0,426.5M673.9,418.2L671.0,417.4L669.4,416.2L667.7,416.2M686.9,408.5L689.0,408.1L690.6,409.6M686.3,421.9L687.1,419.7L688.6,416.2L691.6,414.8L695.3,414.4M628.1,397.2L626.0,399.0L622.9,401.1M665.7,432.0L668.9,433.0L670.0,434.9M684.5,391.1L682.1,392.0L681.5,394.3L679.0,396.5M666.0,398.7L662.4,399.1L659.5,397.8L656.3,398.7L654.1,398.7M664.5,432.6L663.2,434.4L661.8,437.5L658.5,438.3L657.7,442.0M621.2,431.3L619.8,428.9L619.5,426.9L618.7,423.8L618.4,421.7M670.0,401.5L669.1,398.6L670.2,396.6L670.0,392.9M650.1,416.0L649.8,417.7L651.4,419.1L652.6,420.6M628.8,415.9L630.5,415.2L632.3,413.0M685.7,380.5L684.1,379.2L680.3,378.6L678.6,376.3M661.3,430.0L661.8,433.1L661.4,436.7L659.0,437.8M639.3,395.3L639.7,393.2L641.3,390.5L642.8,387.7M666.4,395.5L666.4,392.6L667.0,390.4M625.8,417.8L627.3,420.7L629.4,422.6L632.2,424.1M637.3,424.7L636.5,421.3L633.2,419.8L629.6,419.9L626.6,418.0M663.5,398.4L661.6,398.5L659.0,397.8L658.6,396.1M621.5,430.2L625.2,430.8L628.1,432.9M705.2,230.6L707.9,229.9L710.8,230.9M712.1,233.9L715.0,233.1L717.8,232.7L719.4,234.1M719.5,220.7L720.2,219.1L719.6,216.6L720.1,215.1L719.1,212.6M702.9,233.1L703.9,236.0L705.4,237.6L707.2,240.2M701.9,229.4L701.7,225.6L703.9,224.0M722.1,210.9L721.1,212.9L719.3,215.8L718.3,217.2M715.1,208.2L713.9,205.7L711.8,204.5L709.8,204.1M710.9,233.4L707.9,232.5L707.3,229.1L707.0,226.1M706.7,236.2L706.1,239.1L705.7,243.0L704.9,245.6M717.3,218.7L715.6,216.9L715.0,213.8L714.3,212.0L714.9,209.4M707.2,219.8L710.8,220.6L714.5,219.5M720.4,223.1L721.9,226.1L723.5,228.8M714.6,221.9L712.7,221.8L710.6,221.5M711.2,228.8L712.3,225.5L712.5,222.7L711.7,221.1M719.1,206.2L718.2,208.1L719.3,210.4L719.2,213.4L718.0,217.1M711.6,233.2L712.9,235.2L713.7,238.6L712.8,241.0M716.7,215.3L719.6,214.9L723.4,215.3L725.1,217.2M705.4,204.4L703.5,205.3L702.1,207.0L700.0,208.7M709.4,212.9L707.3,211.1L704.4,208.8M749.2,211.1L750.7,209.8L753.9,209.0L755.5,210.4L757.9,210.8M708.6,219.0L709.7,216.4L710.4,213.6L710.3,210.8L712.2,208.7M708.1,217.5L710.7,216.7L713.3,217.3M733.9,211.4L733.0,214.4L730.2,216.5M710.1,206.5L709.8,208.9L711.8,210.1L712.6,212.1L714.2,214.7M700.1,230.6L697.6,232.4L694.6,233.6L692.3,232.6L690.7,231.9M711.2,211.9L713.5,214.4L714.2,217.8L713.7,221.2M717.6,223.3L716.3,225.5L716.6,228.4L717.1,231.6M705.5,218.0L707.3,217.5L708.1,215.7L707.6,214.0M703.4,226.4L703.0,228.2L703.8,231.4L706.7,232.9L708.0,235.2M704.1,239.2L707.1,240.7L709.4,241.4L710.1,244.4M696.2,238.5L695.1,240.2L691.7,240.9L690.2,242.2L687.0,243.0M706.7,208.0L709.2,207.7L711.2,204.9M708.4,213.2L709.8,212.1L712.1,209.8L713.6,208.8M697.4,238.5L697.6,236.2L695.4,234.2L692.0,233.9L688.4,233.4M703.0,239.3L703.0,241.1L701.1,242.3M712.7,206.2L715.0,208.0L715.4,210.1L718.0,211.7L720.6,212.8M712.1,221.2L714.0,218.8L717.1,218.1L718.5,214.7L720.1,212.4M726.6,207.4L724.8,208.2L723.4,209.7L719.5,210.7M730.3,208.8L728.7,207.1L726.0,207.4L722.2,207.9M725.1,212.5L723.3,211.4L722.6,207.8L720.6,204.7M873.5,464.2L875.0,464.0L877.3,463.4L879.8,464.8M886.2,463.2L886.2,460.6L885.9,459.0L885.2,457.0M880.3,457.8L880.8,456.1L879.7,454.4L877.5,452.6L876.2,450.6M874.8,471.4L872.2,472.4L871.6,475.9L868.8,477.9L867.5,481.5M896.4,466.2L895.9,464.4L895.4,462.2L896.1,460.2M870.8,466.0L873.1,465.2L873.9,463.7L872.9,462.0M880.8,459.4L877.9,456.8L874.9,455.0M878.8,474.8L881.7,473.7L884.9,474.8L885.7,476.4M873.2,465.7L872.9,462.5L872.7,460.4L872.1,458.9L873.3,455.8M866.9,455.9L868.5,458.4L868.1,460.3L867.9,464.0L867.3,466.2M881.6,457.9L878.8,456.5L877.8,453.0L877.3,450.6M890.4,460.2L891.9,457.1L894.1,455.8L896.6,455.7L897.9,454.9M869.5,456.2L871.0,456.5L873.8,455.7L877.4,455.3L879.3,456.4M873.7,462.6L871.6,463.3L867.6,463.2M869.0,460.9L869.1,464.2L869.8,466.3M884.2,457.6L882.2,454.8L880.6,455.0L877.4,453.9M622.8,390.7L624.9,392.7L626.2,393.8L628.1,395.2M624.3,387.5L624.1,384.1L622.3,381.9M623.5,389.6L625.6,390.8L626.3,394.2L626.1,396.8L624.3,399.4M620.1,381.0L619.4,384.3L620.1,386.4L618.8,389.9M650.3,380.3L647.5,381.7L646.8,383.5M642.4,383.5L640.4,382.2L636.9,380.9M621.9,384.4L618.3,385.0L616.4,386.3L616.2,389.6M656.3,375.9L658.5,376.8L662.0,377.1L663.4,378.7L664.8,380.8M647.7,386.4L646.2,388.4L645.8,391.6L645.6,395.3L644.1,396.8M640.5,387.9L643.7,387.9L645.3,386.6M638.1,382.0L638.3,379.1L638.1,375.8L638.9,373.3M636.3,386.8L638.9,385.9L641.5,385.6L644.8,384.3M653.5,379.9L654.2,383.6L654.2,387.5L653.9,389.1L656.1,391.3M634.9,375.3L636.4,376.6L638.2,377.3L640.6,378.1M636.7,383.9L638.1,385.8L640.5,386.1L642.7,387.0L644.2,385.8M627.5,388.1L630.7,387.8L631.8,386.2M783.3,413.6L784.9,412.6L787.8,412.8M789.5,419.0L791.5,418.0L794.9,419.1L796.4,417.6M795.2,417.2L791.5,417.6L788.2,418.8L786.7,420.2M797.5,421.3L800.7,422.0L803.8,422.5M794.9,415.3L793.0,412.9L791.7,409.8L790.4,407.9M790.4,419.1L792.1,418.3L794.3,419.0L795.1,421.3M783.7,410.9L786.5,412.1L789.3,413.6L791.1,412.9M779.3,414.4L779.3,416.3L780.4,417.5M800.5,414.3L798.5,411.3L797.2,408.3M792.4,416.8L794.0,417.1L796.8,418.2L799.2,419.0M787.6,414.9L791.1,414.0L793.8,411.4M792.0,416.1L791.8,414.1L790.4,412.5L790.5,410.4M781.6,411.9L781.5,415.6L783.1,417.5L785.3,419.1L787.1,421.6M790.1,416.7L792.9,417.8L795.3,417.2L797.2,415.7L798.0,412.3M541.5,432.8L543.0,435.3L546.3,436.7L547.7,439.0M541.6,439.4L545.2,440.2L546.0,442.5L545.9,444.4L545.6,446.2M540.6,438.4L542.0,436.8L545.4,436.4L547.6,437.1L550.0,439.4M572.1,441.1L571.2,437.8L571.5,434.2L573.5,432.6L575.5,431.8M558.8,436.8L558.7,434.5L559.8,432.7M543.5,439.2L543.1,435.3L541.2,433.1M570.7,441.0L569.3,438.1L569.5,434.4L572.5,433.0M487.2,445.4L487.8,447.0L490.9,448.5L491.0,450.6L493.0,452.2M543.5,436.3L545.4,436.6L548.2,436.9L550.2,438.7M538.9,440.2L539.4,437.0L540.4,433.3L542.7,431.2L543.5,429.6M562.1,437.3L564.1,434.1L566.4,432.8M556.6,437.0L553.4,436.4L549.9,436.0L546.7,437.5M562.2,437.5L564.4,439.0L567.4,439.8L569.5,442.6M540.0,439.0L540.4,442.5L539.6,446.0L540.1,449.7M542.7,437.3L541.6,434.3L540.3,432.2L537.7,430.3L535.4,429.3M561.9,439.4L564.2,440.7L567.3,441.6M567.3,442.0L568.8,443.5L571.3,442.8L573.1,442.6L575.7,444.3M561.5,438.4L560.7,442.2L559.4,444.2M542.7,438.8L545.6,439.7L547.2,441.4L546.8,444.1M541.2,434.5L541.0,436.2L539.9,438.4L536.9,439.4L536.4,441.1M541.8,432.4L541.1,430.0L538.3,428.2L535.3,428.7L533.0,428.9M567.9,441.1L569.5,444.6L569.1,448.1L569.0,450.2M558.7,437.1L560.7,434.4L560.7,432.0M565.9,441.1L568.3,439.9L569.2,438.5M542.2,435.0L538.4,434.9L536.8,437.1L534.4,437.1M484.9,446.8L484.9,443.7L484.9,440.4L485.3,437.8M539.4,439.8L540.1,437.1L540.2,435.2L540.7,432.6L539.6,430.6M542.4,436.8L545.4,436.0L547.7,433.4M486.1,445.9L488.9,444.2L490.9,444.3L492.3,447.0M559.3,437.3L561.3,437.2L563.0,436.4L565.9,436.8L567.2,434.6M572.8,441.4L575.1,440.8L576.6,440.4L580.2,439.2M563.3,437.7L562.2,439.8L561.9,441.9L562.8,443.5M554.6,435.1L555.8,431.7L556.4,429.6L557.4,427.6L557.0,423.8M559.5,436.2L560.1,434.3L563.0,432.9L565.1,431.6L568.0,430.9M559.3,435.9L558.8,438.9L555.6,440.7M563.9,438.3L566.2,439.4L567.2,442.3L569.2,445.2M542.5,437.9L541.5,436.4L541.0,433.4L539.4,430.9M541.5,435.0L541.7,432.7L540.4,430.8L538.5,430.2M543.2,438.5L540.5,438.9L538.4,440.4L537.5,443.4L536.0,445.2M488.3,444.4L484.8,444.4L482.8,444.9L481.2,443.4L479.3,443.2M557.3,449.6L558.3,452.1L558.5,455.3M571.0,457.4L573.0,459.9L574.2,461.6L575.0,463.2M541.3,474.2L540.5,471.3L539.8,469.9L539.8,466.7M543.0,453.3L539.9,454.5L538.4,457.5L538.2,459.6L536.3,461.0M471.4,497.6L468.2,498.2L466.8,499.1M558.2,473.8L558.6,472.3L559.8,470.2L560.4,468.0M536.5,466.2L534.7,465.3L532.7,462.9L530.4,461.4M569.5,452.8L569.7,450.9L570.0,448.6L571.1,445.4L573.7,444.2M459.9,486.6L461.5,484.4L461.4,482.2M557.0,453.8L555.3,451.8L551.5,451.7M539.0,478.8L539.2,481.2L537.6,484.6L535.9,487.1M549.2,455.5L548.7,458.9L549.5,462.5M531.3,474.8L529.6,476.5L529.9,480.4L530.3,483.2M473.2,481.1L472.9,478.5L472.2,476.2M850.9,229.7L853.2,230.3L856.0,230.6M861.9,230.5L861.2,228.5L859.2,227.2L855.8,227.9M847.4,261.2L845.0,261.7L842.9,260.6L840.8,260.0L836.9,260.2M849.8,227.0L851.3,229.8L851.4,231.5L851.2,234.8M857.8,213.4L858.9,216.1L858.5,217.6M862.4,238.0L860.6,236.6L858.3,236.4M864.8,226.6L866.3,224.6L867.4,222.0L867.9,218.1L870.8,217.2M857.6,225.2L856.3,226.5L856.5,230.0L855.2,231.5L853.7,233.5M859.7,222.6L860.8,224.7L860.2,226.5M850.2,245.0L846.7,245.2L844.3,245.2L841.6,247.3L840.8,249.9" fill="none" stroke="#031c0a" stroke-width="1.25" stroke-linecap="round" stroke-linejoin="round"/>
<path d="M674,398.2 L679.1,391.8 L686.7,390.5 L690.5,393.1 L688,398.2 L691.8,402 L698.2,404.5 L699.5,409.6 L695.6,414.7 L698.2,421.1 L694.4,426.2 L689.3,429.4 L681.6,431.3 L676.5,431.3 L672.7,426.2 L671.5,419.8 L679.1,416 L681.6,410.9 L676.5,405.8Z" fill="#888888" stroke="#000" stroke-width="1.35" stroke-linejoin="round"/>
<path d="M644,408 L647,403 L648,398 L647,395 L650,393.5 L654,394.5 L657,398 L658,401 L660,398 L664,396 L668,395 L672,397 L676,395 L679,391.5 L683,390 L687,391.5 L689,394 L686,396 L682,399 L679,402 L675,405 L674,408 L677,410 L680,409 L685,408.5 L690,410 L695,408 L696,411 L693,414 L689,416 L685,417 L680,418 L679,422 L680,426 L678,430 L674,432 L670,434 L666,435 L662,434 L660,430 L657,430 L654,432 L651,429 L648,425 L648,420 L645,415Z" fill="#888888" stroke="#000" stroke-width="1.35" stroke-linejoin="round"/>
<path d="M582.5,378.5 L585,374 L586.5,369 L589,365.5 L593,364 L597,363.5 L600,364.5 L598,366.5 L600,370 L602,373.5 L605,371 L608,369 L610.5,371 L613,374.5 L616,375 L619,373 L622,372 L625,373.5 L622,375.5 L619,378 L616,379.5 L612,380 L610,381.5 L614,384 L615.5,387 L615,391 L612,392 L608,391.5 L604,390.5 L602,387 L600,384 L599,387 L596.5,388 L594.5,386 L593,383 L589,381 L585,380Z" fill="#888888" stroke="#000" stroke-width="1.35" stroke-linejoin="round"/>
<path d="M568,294 L572,292.5 L575,290.5 L577.5,287.5 L581,286 L585,287 L590,290 L594,293.5 L595,297 L592,299 L587,300 L585,302.5 L586,305 L590,304.5 L595,303 L599,303.5 L602,306.5 L603.5,311 L603.5,315 L602.5,319 L599,320.5 L595,321.5 L591,323.5 L588.5,326 L587,329 L588.5,332.5 L585,335 L580,337.5 L575,338 L570,340.5 L566,341 L563.5,339 L565,336 L562.5,334 L559,335 L555,335.5 L552.5,332.5 L552,328.5 L554,325 L558,322 L562,319 L566.5,316.5 L571,313.5 L575,311.5 L579,309.5 L581.5,307 L580.5,302 L578.5,298.5 L575,296.5 L571,295.5Z" fill="#888888" stroke="#000" stroke-width="1.35" stroke-linejoin="round"/>
<path d="M590,154 L585,156.5 L580,159.5 L575,163 L571.5,167 L568.5,171.5 L566,175.5 L563,177 L560,181 L557,184.5 L554,187.5 L552,190.5 L548,192 L544,194 L540,196 L537,199 L534.5,202.5 L532.5,206.5 L531,211 L530.5,215 L531.5,219 L533.5,225 L537,231 L540,234 L544,236.5 L549,238.5 L555,239 L560,238.5 L566,239 L572,239.5 L578,241 L584,243 L590,245 L595,246.5 L600,247 L605,247.2 L609,246.5 L611,244.5 L616,244.8 L622,244 L628,243 L633,242.5 L633.5,239.5 L634.5,239.5 L635,242.5 L639,241.5 L644,240 L649,237.5 L654,234.5 L658,231 L662,227 L666,222 L670,217.5 L673,215 L675,213.5 L676,216 L677.5,213.5 L679,213 L679.5,218 L681,222 L684,225.5 L688.5,227 L684,225.5 L688,227 L692,226.5 L696,225 L700,222 L704,218 L705.5,214 L706,210 L705,206.5 L703.5,203.5 L700,201 L695,198.5 L690,197 L685,195.5 L680,194.5 L694,198.5 L688,197 L683,195.5 L679.5,193.5 L677.5,190.5 L675,188 L670,187.5 L664,187.5 L658,186.5 L652,186.8 L647,186.5 L645,183 L645,178 L643,174.5 L639,172 L634,170.5 L630,168.5 L627,165.5 L623,162.5 L618,160.5 L612,159.5 L606,158.5 L600,157 L595,155.5 L590,154Z" fill="#888888" stroke="#000" stroke-width="1.35" stroke-linejoin="round"/>
<path d="M690.7,419.6L689.7,421.9L687.0,422.2L685.7,419.1L689.3,417.7ZM691.8,409.4L691.0,408.6L690.7,407.7L690.2,406.2L691.7,406.1L692.6,406.3L693.9,407.0L693.3,408.8ZM678.7,432.1L677.7,429.6L678.8,427.6L680.6,426.1L682.9,426.9L681.1,429.7ZM681.6,425.4L680.1,424.2L679.1,422.8L680.0,421.7L681.2,421.5L683.2,422.2L683.3,424.5ZM680.7,408.4L680.0,407.4L679.6,405.4L681.6,405.7L683.4,405.5L684.4,407.3L683.7,409.3L681.7,409.3ZM682.1,409.8L684.3,411.4L683.2,414.9L679.9,413.5L679.0,411.0ZM681.0,398.1L680.8,396.9L682.2,396.2L683.9,397.9L682.3,398.7ZM687.4,407.7L687.3,409.3L686.0,408.4L685.0,407.7L684.9,406.1L686.4,406.3L687.7,406.3ZM698.5,417.9L696.2,416.8L694.9,414.3L698.4,413.8L699.5,416.0ZM685.4,426.9L686.7,426.7L688.5,428.0L688.1,430.6L686.2,431.0L684.7,429.8L684.5,427.9ZM694.7,425.8L693.7,427.1L692.2,426.2L691.2,424.8L691.6,423.1L693.5,422.9L694.5,424.3ZM696.3,415.3L698.8,415.0L699.9,417.0L697.5,419.2L695.4,417.6ZM679.8,401.5L682.5,403.0L683.2,406.4L681.2,408.1L679.0,408.4L677.7,406.3L675.8,403.9L677.1,401.2ZM681.8,418.8L682.5,417.0L684.0,415.7L686.5,415.9L687.9,417.8L687.8,419.9L685.4,419.8L683.8,419.8ZM684.3,415.8L684.5,417.0L684.2,417.8L683.5,417.7L683.3,416.4L683.7,415.5Z" fill="#116827" stroke="#000" stroke-width="1" stroke-linejoin="round"/><path d="M682.3,415.2L680.9,413.3L681.6,409.7M690.6,412.8L692.3,412.7L695.1,411.5L697.6,412.5L699.7,413.4M688.1,413.4L690.5,413.1L691.5,410.7M688.6,397.3L686.5,396.2L682.6,395.7L680.7,393.1L677.5,391.5M683.2,404.1L684.7,405.1L686.9,406.8L688.7,407.2M685.0,413.3L684.0,415.2L684.6,417.4L684.5,420.5M688.3,420.3L690.9,421.1L693.8,421.2M681.7,420.3L679.0,421.3L677.4,423.0M683.6,422.7L681.9,420.5L682.2,418.0L683.6,416.4L685.2,415.7M690.8,408.4L689.2,410.0L686.8,411.1L685.6,414.3M694.1,422.1L692.2,421.0L689.9,420.0M691.1,408.6L692.1,411.2L693.8,411.6M687.5,420.2L687.4,417.0L687.2,413.9M680.0,413.6L680.8,410.7L680.4,408.6L681.2,406.8M691.9,398.8L690.4,397.4L690.8,394.8L690.7,390.9L688.7,388.9M682.4,424.2L684.4,424.2L686.6,426.8L689.6,427.2M688.6,405.2L686.3,406.0L682.4,406.1M677.8,398.9L679.6,398.2L682.2,399.0M696.0,415.5L694.3,417.1L693.3,420.6L692.6,422.4M694.1,420.5L693.3,417.2L690.7,414.9M690.2,409.9L692.5,410.4L696.3,409.9M691.3,413.8L688.6,412.1L686.2,411.1L684.1,409.6L681.2,408.1" fill="none" stroke="#031c0a" stroke-width="1.2" stroke-linecap="round" stroke-linejoin="round"/>
<circle cx="159.0" cy="341.8" r="1.2" fill="#000"/>
<circle cx="194.0" cy="361.0" r="1.8" fill="#000"/>
<circle cx="287.5" cy="425.0" r="1.5" fill="#000"/>
<circle cx="293.0" cy="425.0" r="1.5" fill="#000"/>
<circle cx="454.0" cy="487.5" r="1.3" fill="#000"/>
<circle cx="486.0" cy="467.0" r="1.3" fill="#000"/>
<circle cx="490.0" cy="488.0" r="1.3" fill="#000"/>
<circle cx="508.0" cy="463.0" r="1.3" fill="#000"/>
<circle cx="508.0" cy="463.0" r="1.3" fill="#000"/>
<circle cx="524.0" cy="468.5" r="1.3" fill="#000"/>
<circle cx="518.5" cy="473.0" r="1.3" fill="#000"/>
<circle cx="519.0" cy="482.5" r="1.3" fill="#000"/>
<circle cx="509.0" cy="454.0" r="1.3" fill="#000"/>
<circle cx="777.4" cy="212.5" r="1.2" fill="#000"/>
<circle cx="778.0" cy="229.7" r="1.2" fill="#000"/>
<circle cx="854.8" cy="222.9" r="1.2" fill="#000"/>
<circle cx="848.0" cy="224.2" r="1.2" fill="#000"/>
<circle cx="772.5" cy="348.6" r="1.2" fill="#000"/>
<circle cx="784.7" cy="395.3" r="1.2" fill="#000"/>
<circle cx="854.8" cy="278.0" r="1.2" fill="#000"/>
<circle cx="777.5" cy="213.0" r="1.2" fill="#000"/>
<circle cx="778.5" cy="229.5" r="1.2" fill="#000"/>
<circle cx="784.4" cy="395.3" r="1.2" fill="#000"/>
<circle cx="773.4" cy="348.6" r="1.2" fill="#000"/>
<circle cx="784.8" cy="396.2" r="1.0" fill="#000"/>
<circle cx="817.3" cy="410.4" r="1.0" fill="#000"/>
<path d="M352,436 L356,434.5 L360.5,432.5" fill="none" stroke="#031a09" stroke-width="1.4" stroke-linecap="round"/>
<path d="M390,462 L393,459.5 L396.5,456.5" fill="none" stroke="#031a09" stroke-width="1.4" stroke-linecap="round"/>
<path d="M399,465 L401,463 L403.5,461.5" fill="none" stroke="#031a09" stroke-width="1.4" stroke-linecap="round"/>
<path d="M676.5,262.5 L680,265.5 L685,269.5 L692,275" fill="none" stroke="#031a09" stroke-width="1.4" stroke-linecap="round"/>
<path d="M873.8,378.1 L878.1,375 L881.2,370.7 L884.9,367.1 L888.6,365.2" fill="none" stroke="#031a09" stroke-width="2.2" stroke-linecap="round"/>
<path d="M841.9,391.6 L847.4,392.2 L853.5,389.8 L856.6,386.1 L857.2,383.6 L853.5,383.6" fill="none" stroke="#031a09" stroke-width="2" stroke-linecap="round"/>
<path d="M803.2,320.4 L806.9,319.8 L810.5,319.8" fill="none" stroke="#031a09" stroke-width="2" stroke-linecap="round"/>
<path d="M830.2,319.1 L831.4,321.6 L832.7,323.4" fill="none" stroke="#031a09" stroke-width="2" stroke-linecap="round"/>
<path d="M841.3,280.4 L844.9,281.3 L848.6,281.1" fill="none" stroke="#031a09" stroke-width="2" stroke-linecap="round"/>
<path d="M830.2,298.9 L833.9,298.5 L837,298.3" fill="none" stroke="#031a09" stroke-width="2" stroke-linecap="round"/>
<path d="M476,480 L477.5,482.5 L479.5,486" fill="none" stroke="#031a09" stroke-width="2" stroke-linecap="round"/>
<path d="M517.5,475 L518,477 L518.5,479" fill="none" stroke="#031a09" stroke-width="2" stroke-linecap="round"/>
<path d="M531,477.5 L533,479 L535.5,481" fill="none" stroke="#031a09" stroke-width="2.2" stroke-linecap="round"/>
<path d="M317.2,347.5 L317.6,350 L318,352.5" fill="none" stroke="#031a09" stroke-width="2" stroke-linecap="round"/>
<path d="M745,198.5 L748,202 L750,205" fill="none" stroke="#031a09" stroke-width="1.5" stroke-linecap="round"/>
<path d="M680,242 L686,239 L693,235 L700,232 L706,229" fill="none" stroke="#031a09" stroke-width="1.4" stroke-linecap="round"/>
<path d="M683,244 L690,240 L697,237 L705,234" fill="none" stroke="#031a09" stroke-width="1.4" stroke-linecap="round"/>
<path d="M840.8,500.6 L844.5,502.7 L848.6,505.3" fill="none" stroke="#031a09" stroke-width="1.4" stroke-linecap="round"/>
<path d="M846.5,437.3 L849.7,434.7 L851.8,431.5" fill="none" stroke="#031a09" stroke-width="1.4" stroke-linecap="round"/>
<path d="M861.2,512.7 L863.3,514.2 L862.3,516.9" fill="none" stroke="#031a09" stroke-width="1.5" stroke-linecap="round"/>
<path d="M513.5,678.9L521.6,677.8M539.3,704.7L545.9,700.9M539.3,678.9L551.0,677.5M565.1,704.7L580.0,701.2M565.1,678.9L578.0,678.9M590.9,678.9L605.4,676.9M616.7,678.9L631.6,678.3M642.5,678.9L656.3,680.4M642.5,653.1L652.5,649.9M668.3,678.9L676.5,680.3M668.3,653.1L680.7,651.0M668.3,627.3L672.4,626.2M694.1,678.9L703.2,678.2M694.1,653.1L706.8,652.2M694.1,627.3L704.6,626.1M694.1,601.5L699.0,600.5M719.9,678.9L725.8,679.0M719.9,653.1L735.7,652.4M719.9,627.3L733.5,627.3M719.9,601.5L727.2,601.5M745.8,653.1L756.8,653.4M745.8,627.3L760.3,628.2M745.8,601.5L752.8,602.2M771.6,653.1L777.9,654.2M771.6,627.3L784.2,626.4M771.6,601.5L777.3,601.4M797.4,678.9L795.9,685.8M797.4,653.1L798.8,659.7M797.4,627.3L803.7,628.8M797.4,601.5L802.6,601.0M823.2,678.9L818.8,692.2M823.2,653.1L822.2,664.3M849.0,678.9L842.8,693.5M849.0,653.1L846.0,668.3M849.0,627.3L849.5,633.1M874.8,678.9L856.5,708.9M874.8,653.1L867.8,672.4M874.8,627.3L874.0,637.3M900.6,704.7L899.8,705.8M900.6,678.9L881.6,705.9M900.6,653.1L883.2,676.4M900.6,627.3L890.6,642.9M900.6,627.3L886,649M103,600Q99,618 105,635" stroke="#000" stroke-width="1.7" fill="none"/><path d="M100.5,612.0L96.2,597.2L105.9,597.6ZM102.0,534.2L97.9,519.4L107.6,519.8ZM126.3,696.5L131.1,711.1L121.4,711.1ZM116.4,681.0L129.4,672.8L131.8,682.2ZM118.2,660.6L124.6,646.6L131.7,653.1ZM128.1,636.6L120.0,623.6L129.4,621.3ZM121.0,611.5L122.7,596.2L131.5,600.3ZM118.5,582.5L125.3,568.7L132.2,575.5ZM129.5,559.5L120.2,547.3L129.4,544.2ZM129.5,533.7L120.0,521.6L129.2,518.4ZM157.7,694.4L154.2,709.4L146.0,704.3ZM153.5,670.2L155.4,685.4L145.9,683.6ZM144.0,658.1L153.6,646.0L158.9,654.1ZM159.1,633.1L144.8,627.4L151.1,620.0ZM145.5,595.0L158.8,602.7L151.6,609.1ZM154.0,585.5L146.3,572.2L155.7,570.2ZM156.7,559.5L146.0,548.5L154.8,544.3ZM181.7,692.3L183.7,707.5L174.2,705.7ZM182.6,669.7L179.6,684.8L171.2,680.0ZM171.1,660.6L176.7,646.3L184.2,652.5ZM169.0,632.4L179.9,621.5L184.2,630.2ZM172.5,609.0L176.4,594.1L184.5,599.4ZM179.0,585.5L172.3,571.7L181.9,570.4ZM182.6,559.5L171.9,548.6L180.6,544.3ZM210.8,690.2L209.0,705.5L200.3,701.4ZM215.1,671.6L205.0,683.3L200.0,674.9ZM204.2,644.4L207.6,659.4L197.9,658.4ZM212.7,626.1L198.9,632.9L197.5,623.3ZM195.5,600.5L210.7,597.9L209.2,607.5ZM208.5,585.5L197.7,574.6L206.4,570.3ZM207.7,559.5L197.5,548.0L206.4,544.2ZM240.8,695.8L230.7,707.4L225.8,699.0ZM241.5,672.6L231.9,684.6L226.6,676.4ZM242.2,647.5L230.4,657.3L226.9,648.3ZM242.2,628.9L227.0,631.3L228.6,621.7ZM239.4,610.0L225.6,603.1L232.5,596.2ZM235.6,585.2L224.0,575.1L232.4,570.1ZM233.8,558.4L222.7,547.7L231.3,543.2ZM266.9,700.7L253.1,707.5L251.8,697.9ZM271.1,680.6L256.1,684.0L257.1,674.4ZM269.0,660.6L254.0,657.2L259.0,648.9ZM264.8,636.9L251.1,629.8L258.1,623.1ZM264.8,612.0L251.5,604.2L258.8,597.8ZM257.7,585.2L249.5,572.2L258.9,569.8ZM297.9,704.0L282.8,707.1L284.0,697.4ZM296.5,687.4L281.2,686.0L285.1,677.1ZM286.4,664.1L276.8,652.0L285.9,648.7ZM291.1,634.9L276.6,629.8L282.6,622.2ZM285.2,614.1L276.3,601.5L285.6,598.7ZM283.5,584.1L274.4,571.7L283.6,568.7ZM319.7,672.3L307.9,682.1L304.4,673.1ZM321.9,651.9L307.6,657.7L307.0,648.0ZM317.9,635.9L304.1,629.1L310.9,622.2ZM307.1,611.6L301.5,597.2L311.2,596.7ZM345.8,677.2L331.3,682.3L331.1,672.7ZM349.8,657.1L334.4,657.8L337.0,648.5ZM339.1,638.3L328.0,627.6L336.7,623.1ZM332.4,609.9L327.6,595.3L337.3,595.3ZM371.2,683.1L355.8,682.3L359.4,673.3ZM375.4,658.1L360.0,658.2L363.0,649.0ZM359.9,638.7L353.2,624.9L362.8,623.6ZM395.8,683.4L380.5,683.6L383.4,674.4ZM399.6,654.2L384.7,657.9L385.5,648.3ZM378.5,635.9L385.2,622.1L392.2,628.9ZM420.5,677.2L406.8,684.2L405.3,674.6ZM424.4,654.2L409.4,657.6L410.4,647.9ZM399.6,634.5L407.8,621.4L414.0,628.9ZM437.7,693.7L440.4,708.9L430.8,707.4ZM439.5,670.2L436.9,685.3L428.4,680.8ZM448.0,651.0L434.1,657.7L432.9,648.1ZM424.7,633.1L435.1,621.7L439.8,630.2ZM469.1,695.8L464.4,710.5L456.6,704.7ZM476.6,680.6L461.5,683.8L462.6,674.1ZM473.6,657.1L458.2,657.0L461.3,647.8ZM452.6,633.1L461.4,620.5L467.2,628.3ZM500.5,699.5L488.3,708.8L485.2,699.7ZM504.8,685.2L489.4,686.5L491.7,677.1ZM478.3,657.5L489.4,646.9L493.5,655.6ZM499.1,629.3L483.9,631.4L485.7,621.8ZM489.5,610.1L481.6,597.0L491.0,594.8ZM529.0,698.9L515.9,706.9L513.7,697.5ZM536.0,675.8L522.2,682.6L520.9,673.0ZM499.7,656.1L512.1,647.0L515.1,656.2ZM522.7,636.4L510.1,627.4L517.9,621.7ZM504.0,600.0L519.2,598.0L517.4,607.5ZM560.0,697.2L547.1,705.6L544.6,696.2ZM565.6,676.8L551.3,682.3L550.8,672.7ZM539.6,661.7L532.4,648.1L542.0,646.5ZM547.3,638.7L534.3,630.6L541.7,624.4ZM532.5,607.7L540.3,594.5L546.7,601.8ZM544.7,583.8L532.7,574.2L540.8,568.9ZM594.5,702.9L579.5,706.1L580.5,696.4ZM592.4,676.8L578.7,683.7L577.3,674.1ZM564.9,664.8L560.4,650.1L570.1,650.3ZM555.1,635.9L563.5,623.1L569.5,630.7ZM563.5,615.5L560.0,600.5L569.7,601.4ZM562.0,586.6L559.1,571.5L568.7,572.7ZM555.8,554.2L566.6,543.3L571.0,552.0ZM619.9,675.4L605.9,681.7L604.9,672.1ZM600.2,661.7L584.8,660.6L588.5,651.7ZM579.0,637.8L584.9,623.5L592.2,629.9ZM584.7,618.3L585.3,602.9L594.4,606.4ZM574.1,587.6L580.4,573.6L587.5,580.2ZM579.0,554.7L590.4,544.3L594.3,553.1ZM646.2,678.9L631.5,683.2L631.8,673.5ZM617.5,665.5L611.9,651.2L621.6,650.7ZM620.9,635.2L610.5,623.9L619.3,619.9ZM623.1,604.6L607.8,605.7L610.2,596.3ZM597.3,583.7L607.0,571.7L612.2,579.8ZM600.6,557.5L610.9,546.0L615.7,554.5ZM606.5,525.4L620.4,518.8L621.6,528.4ZM670.6,683.1L655.4,685.2L657.2,675.6ZM666.4,645.4L654.0,654.6L651.0,645.3ZM654.7,617.2L649.8,631.8L642.0,625.9ZM644.5,591.6L645.0,607.0L635.7,604.2ZM653.7,568.8L644.1,580.8L638.8,572.6ZM626.3,553.6L639.5,545.6L641.7,555.1ZM631.6,531.8L640.3,519.2L646.1,526.9ZM651.7,498.0L637.2,503.1L637.0,493.4ZM683.7,697.2L674.6,709.6L669.0,701.7ZM691.0,681.7L676.0,685.1L677.0,675.5ZM695.3,649.6L681.2,655.8L680.3,646.2ZM686.1,621.1L674.1,630.7L670.7,621.6ZM681.9,593.0L673.6,605.9L667.5,598.4ZM684.7,571.9L670.8,578.4L669.6,568.7ZM655.9,556.2L666.2,544.8L671.0,553.2ZM653.8,534.2L664.3,523.0L669.0,531.5ZM671.9,506.0L660.7,495.4L669.3,490.8ZM699.5,712.7L693.9,698.4L703.6,697.9ZM717.8,677.5L703.5,683.0L703.0,673.4ZM721.3,651.0L707.2,657.0L706.4,647.3ZM719.2,626.1L704.6,630.9L704.6,621.2ZM713.3,597.5L700.0,605.2L698.0,595.7ZM703.0,574.4L688.9,580.4L688.1,570.7ZM703.7,545.4L692.9,556.3L688.5,547.6ZM678.9,528.3L692.0,520.2L694.2,529.6ZM691.2,510.0L693.6,494.8L702.2,499.3ZM695.0,481.5L687.6,468.0L697.2,466.3ZM740.4,680.6L725.3,683.8L726.4,674.2ZM750.2,653.3L735.4,657.3L735.9,647.6ZM748.1,627.5L733.5,632.2L733.6,622.5ZM741.8,600.7L727.4,606.3L727.0,596.6ZM727.0,585.2L714.5,576.3L722.4,570.6ZM732.6,545.1L720.7,554.8L717.2,545.7ZM708.1,527.6L721.0,519.2L723.4,528.6ZM718.4,513.1L714.5,498.1L724.2,498.8ZM760.8,685.7L745.4,686.0L748.3,676.8ZM771.4,654.2L756.5,658.3L757.1,648.6ZM774.9,628.2L760.3,633.0L760.3,623.3ZM767.4,602.2L752.8,607.0L752.8,597.3ZM760.4,578.2L745.3,581.3L746.4,571.7ZM759.4,553.5L744.0,554.2L746.7,544.9ZM743.3,536.4L740.6,521.3L750.2,522.7ZM736.7,506.4L743.4,492.6L750.3,499.3ZM769.2,695.8L766.8,680.6L776.4,682.2ZM791.1,660.6L775.8,658.6L780.1,649.9ZM798.8,626.8L784.1,631.2L784.4,621.5ZM791.8,599.3L778.0,606.2L776.7,596.6ZM788.0,581.4L772.6,580.4L776.3,571.4ZM783.8,556.4L768.8,552.7L774.0,544.5ZM756.0,519.5L771.4,519.3L768.5,528.5ZM794.6,700.3L791.1,685.4L800.7,686.2ZM802.1,674.0L794.1,660.8L803.6,658.7ZM817.2,634.5L801.8,633.3L805.6,624.4ZM816.7,597.2L803.9,605.7L801.4,596.3ZM814.3,584.5L799.6,580.2L805.1,572.2ZM810.5,553.3L795.2,554.2L797.7,544.8ZM791.0,524.5L784.2,510.7L793.8,509.4ZM815.3,706.4L814.1,691.0L823.5,693.4ZM821.4,678.9L817.4,664.1L827.1,664.6ZM831.2,642.3L821.8,630.1L831.0,626.9ZM838.7,597.2L826.7,606.9L823.3,597.8ZM831.7,584.5L817.7,578.0L824.4,571.0ZM831.7,563.7L820.3,553.3L828.8,548.6ZM809.1,531.3L818.9,519.4L824.1,527.6ZM837.6,707.1L838.3,691.7L847.4,695.2ZM842.5,682.4L841.3,667.1L850.7,669.4ZM851.0,647.6L844.7,633.6L854.4,632.6ZM858.0,595.8L849.4,608.6L843.5,600.9ZM852.4,567.6L850.5,582.9L841.7,578.7ZM852.4,543.0L849.9,558.2L841.3,553.6ZM846.7,516.2L853.6,530.0L844.1,531.4ZM848.6,721.2L852.4,706.3L860.6,711.5ZM861.7,685.7L863.4,670.4L872.2,674.4ZM873.3,651.9L869.2,637.0L878.8,637.5ZM881.7,609.2L866.9,604.8L872.5,596.9ZM878.2,563.3L878.6,578.7L869.3,575.9ZM871.5,540.4L885.0,547.6L878.0,554.3ZM874.7,536.1L869.7,521.6L879.4,521.5ZM892.3,718.4L895.7,703.3L904.0,708.3ZM874.0,718.4L877.5,703.4L885.8,708.5ZM877.2,689.8L878.8,674.5L887.7,678.4ZM885.6,656.6L886.0,641.3L895.1,644.6ZM892.0,612.4L894.7,597.3L903.2,601.9ZM890.6,577.0L905.0,571.6L905.4,581.3ZM892.3,550.7L906.4,544.4L907.3,554.0ZM885.3,498.0L899.7,492.6L900.1,502.3Z" fill="#000"/>
<path d="M126.0,150.2V704.8M190.5,150.2V704.8M255.0,150.2V704.8M319.5,150.2V704.8M384.0,150.2V704.8M448.5,150.2V704.8M513.0,150.2V704.8M577.5,150.2V704.8M642.0,150.2V704.8M706.5,150.2V704.8M771.0,150.2V704.8M835.5,150.2V704.8M100.2,640.3H900.35M100.2,575.8H900.35M100.2,511.3H900.35M100.2,446.7H900.35M100.2,382.2H900.35M100.2,317.7H900.35M100.2,253.2H900.35M100.2,188.7H900.35" stroke="#c6c6c6" stroke-width="1.9" fill="none"/>
</g>
<rect x="100.2" y="150.2" width="800.15" height="554.5999999999999" fill="none" stroke="#000" stroke-width="2.4"/>
<path d="M100.2,150.2v-4.6M100.2,704.8v4.6M106.7,150.2v-4.6M106.7,704.8v4.6M113.1,150.2v-4.6M113.1,704.8v4.6M119.6,150.2v-4.6M119.6,704.8v4.6M132.4,150.2v-4.6M132.4,704.8v4.6M138.9,150.2v-4.6M138.9,704.8v4.6M145.3,150.2v-4.6M145.3,704.8v4.6M151.8,150.2v-4.6M151.8,704.8v4.6M158.2,150.2v-4.6M158.2,704.8v4.6M164.7,150.2v-4.6M164.7,704.8v4.6M171.2,150.2v-4.6M171.2,704.8v4.6M177.6,150.2v-4.6M177.6,704.8v4.6M184.1,150.2v-4.6M184.1,704.8v4.6M196.9,150.2v-4.6M196.9,704.8v4.6M203.4,150.2v-4.6M203.4,704.8v4.6M209.8,150.2v-4.6M209.8,704.8v4.6M216.3,150.2v-4.6M216.3,704.8v4.6M222.7,150.2v-4.6M222.7,704.8v4.6M229.2,150.2v-4.6M229.2,704.8v4.6M235.7,150.2v-4.6M235.7,704.8v4.6M242.1,150.2v-4.6M242.1,704.8v4.6M248.6,150.2v-4.6M248.6,704.8v4.6M261.4,150.2v-4.6M261.4,704.8v4.6M267.9,150.2v-4.6M267.9,704.8v4.6M274.3,150.2v-4.6M274.3,704.8v4.6M280.8,150.2v-4.6M280.8,704.8v4.6M287.2,150.2v-4.6M287.2,704.8v4.6M293.7,150.2v-4.6M293.7,704.8v4.6M300.2,150.2v-4.6M300.2,704.8v4.6M306.6,150.2v-4.6M306.6,704.8v4.6M313.1,150.2v-4.6M313.1,704.8v4.6M325.9,150.2v-4.6M325.9,704.8v4.6M332.4,150.2v-4.6M332.4,704.8v4.6M338.8,150.2v-4.6M338.8,704.8v4.6M345.3,150.2v-4.6M345.3,704.8v4.6M351.7,150.2v-4.6M351.7,704.8v4.6M358.2,150.2v-4.6M358.2,704.8v4.6M364.7,150.2v-4.6M364.7,704.8v4.6M371.1,150.2v-4.6M371.1,704.8v4.6M377.6,150.2v-4.6M377.6,704.8v4.6M390.4,150.2v-4.6M390.4,704.8v4.6M396.9,150.2v-4.6M396.9,704.8v4.6M403.3,150.2v-4.6M403.3,704.8v4.6M409.8,150.2v-4.6M409.8,704.8v4.6M416.2,150.2v-4.6M416.2,704.8v4.6M422.7,150.2v-4.6M422.7,704.8v4.6M429.2,150.2v-4.6M429.2,704.8v4.6M435.6,150.2v-4.6M435.6,704.8v4.6M442.1,150.2v-4.6M442.1,704.8v4.6M454.9,150.2v-4.6M454.9,704.8v4.6M461.4,150.2v-4.6M461.4,704.8v4.6M467.8,150.2v-4.6M467.8,704.8v4.6M474.3,150.2v-4.6M474.3,704.8v4.6M480.7,150.2v-4.6M480.7,704.8v4.6M487.2,150.2v-4.6M487.2,704.8v4.6M493.7,150.2v-4.6M493.7,704.8v4.6M500.1,150.2v-4.6M500.1,704.8v4.6M506.6,150.2v-4.6M506.6,704.8v4.6M519.5,150.2v-4.6M519.5,704.8v4.6M525.9,150.2v-4.6M525.9,704.8v4.6M532.3,150.2v-4.6M532.3,704.8v4.6M538.8,150.2v-4.6M538.8,704.8v4.6M545.2,150.2v-4.6M545.2,704.8v4.6M551.7,150.2v-4.6M551.7,704.8v4.6M558.2,150.2v-4.6M558.2,704.8v4.6M564.6,150.2v-4.6M564.6,704.8v4.6M571.1,150.2v-4.6M571.1,704.8v4.6M584.0,150.2v-4.6M584.0,704.8v4.6M590.4,150.2v-4.6M590.4,704.8v4.6M596.8,150.2v-4.6M596.8,704.8v4.6M603.3,150.2v-4.6M603.3,704.8v4.6M609.7,150.2v-4.6M609.7,704.8v4.6M616.2,150.2v-4.6M616.2,704.8v4.6M622.7,150.2v-4.6M622.7,704.8v4.6M629.1,150.2v-4.6M629.1,704.8v4.6M635.6,150.2v-4.6M635.6,704.8v4.6M648.5,150.2v-4.6M648.5,704.8v4.6M654.9,150.2v-4.6M654.9,704.8v4.6M661.3,150.2v-4.6M661.3,704.8v4.6M667.8,150.2v-4.6M667.8,704.8v4.6M674.2,150.2v-4.6M674.2,704.8v4.6M680.7,150.2v-4.6M680.7,704.8v4.6M687.2,150.2v-4.6M687.2,704.8v4.6M693.6,150.2v-4.6M693.6,704.8v4.6M700.1,150.2v-4.6M700.1,704.8v4.6M713.0,150.2v-4.6M713.0,704.8v4.6M719.4,150.2v-4.6M719.4,704.8v4.6M725.8,150.2v-4.6M725.8,704.8v4.6M732.3,150.2v-4.6M732.3,704.8v4.6M738.7,150.2v-4.6M738.7,704.8v4.6M745.2,150.2v-4.6M745.2,704.8v4.6M751.7,150.2v-4.6M751.7,704.8v4.6M758.1,150.2v-4.6M758.1,704.8v4.6M764.6,150.2v-4.6M764.6,704.8v4.6M777.5,150.2v-4.6M777.5,704.8v4.6M783.9,150.2v-4.6M783.9,704.8v4.6M790.3,150.2v-4.6M790.3,704.8v4.6M796.8,150.2v-4.6M796.8,704.8v4.6M803.2,150.2v-4.6M803.2,704.8v4.6M809.7,150.2v-4.6M809.7,704.8v4.6M816.2,150.2v-4.6M816.2,704.8v4.6M822.6,150.2v-4.6M822.6,704.8v4.6M829.1,150.2v-4.6M829.1,704.8v4.6M842.0,150.2v-4.6M842.0,704.8v4.6M848.4,150.2v-4.6M848.4,704.8v4.6M854.8,150.2v-4.6M854.8,704.8v4.6M861.3,150.2v-4.6M861.3,704.8v4.6M867.7,150.2v-4.6M867.7,704.8v4.6M874.2,150.2v-4.6M874.2,704.8v4.6M880.7,150.2v-4.6M880.7,704.8v4.6M887.1,150.2v-4.6M887.1,704.8v4.6M893.6,150.2v-4.6M893.6,704.8v4.6M100.2,698.3h-4.6M900.35,698.3h4.6M100.2,691.9h-4.6M900.35,691.9h4.6M100.2,685.4h-4.6M900.35,685.4h4.6M100.2,679.0h-4.6M900.35,679.0h4.6M100.2,672.5h-4.6M900.35,672.5h4.6M100.2,666.1h-4.6M900.35,666.1h4.6M100.2,659.6h-4.6M900.35,659.6h4.6M100.2,653.2h-4.6M900.35,653.2h4.6M100.2,646.7h-4.6M900.35,646.7h4.6M100.2,633.8h-4.6M900.35,633.8h4.6M100.2,627.4h-4.6M900.35,627.4h4.6M100.2,620.9h-4.6M900.35,620.9h4.6M100.2,614.5h-4.6M900.35,614.5h4.6M100.2,608.0h-4.6M900.35,608.0h4.6M100.2,601.6h-4.6M900.35,601.6h4.6M100.2,595.1h-4.6M900.35,595.1h4.6M100.2,588.7h-4.6M900.35,588.7h4.6M100.2,582.2h-4.6M900.35,582.2h4.6M100.2,569.3h-4.6M900.35,569.3h4.6M100.2,562.9h-4.6M900.35,562.9h4.6M100.2,556.4h-4.6M900.35,556.4h4.6M100.2,550.0h-4.6M900.35,550.0h4.6M100.2,543.5h-4.6M900.35,543.5h4.6M100.2,537.1h-4.6M900.35,537.1h4.6M100.2,530.6h-4.6M900.35,530.6h4.6M100.2,524.2h-4.6M900.35,524.2h4.6M100.2,517.7h-4.6M900.35,517.7h4.6M100.2,504.8h-4.6M900.35,504.8h4.6M100.2,498.4h-4.6M900.35,498.4h4.6M100.2,491.9h-4.6M900.35,491.9h4.6M100.2,485.5h-4.6M900.35,485.5h4.6M100.2,479.0h-4.6M900.35,479.0h4.6M100.2,472.6h-4.6M900.35,472.6h4.6M100.2,466.1h-4.6M900.35,466.1h4.6M100.2,459.7h-4.6M900.35,459.7h4.6M100.2,453.2h-4.6M900.35,453.2h4.6M100.2,440.3h-4.6M900.35,440.3h4.6M100.2,433.8h-4.6M900.35,433.8h4.6M100.2,427.4h-4.6M900.35,427.4h4.6M100.2,420.9h-4.6M900.35,420.9h4.6M100.2,414.5h-4.6M900.35,414.5h4.6M100.2,408.0h-4.6M900.35,408.0h4.6M100.2,401.6h-4.6M900.35,401.6h4.6M100.2,395.1h-4.6M900.35,395.1h4.6M100.2,388.7h-4.6M900.35,388.7h4.6M100.2,375.8h-4.6M900.35,375.8h4.6M100.2,369.3h-4.6M900.35,369.3h4.6M100.2,362.9h-4.6M900.35,362.9h4.6M100.2,356.4h-4.6M900.35,356.4h4.6M100.2,350.0h-4.6M900.35,350.0h4.6M100.2,343.5h-4.6M900.35,343.5h4.6M100.2,337.1h-4.6M900.35,337.1h4.6M100.2,330.6h-4.6M900.35,330.6h4.6M100.2,324.2h-4.6M900.35,324.2h4.6M100.2,311.3h-4.6M900.35,311.3h4.6M100.2,304.8h-4.6M900.35,304.8h4.6M100.2,298.4h-4.6M900.35,298.4h4.6M100.2,291.9h-4.6M900.35,291.9h4.6M100.2,285.5h-4.6M900.35,285.5h4.6M100.2,279.0h-4.6M900.35,279.0h4.6M100.2,272.6h-4.6M900.35,272.6h4.6M100.2,266.1h-4.6M900.35,266.1h4.6M100.2,259.7h-4.6M900.35,259.7h4.6M100.2,246.8h-4.6M900.35,246.8h4.6M100.2,240.3h-4.6M900.35,240.3h4.6M100.2,233.9h-4.6M900.35,233.9h4.6M100.2,227.4h-4.6M900.35,227.4h4.6M100.2,221.0h-4.6M900.35,221.0h4.6M100.2,214.5h-4.6M900.35,214.5h4.6M100.2,208.1h-4.6M900.35,208.1h4.6M100.2,201.6h-4.6M900.35,201.6h4.6M100.2,195.2h-4.6M900.35,195.2h4.6M100.2,182.2h-4.6M900.35,182.2h4.6M100.2,175.8h-4.6M900.35,175.8h4.6M100.2,169.3h-4.6M900.35,169.3h4.6M100.2,162.9h-4.6M900.35,162.9h4.6M100.2,156.4h-4.6M900.35,156.4h4.6M100.2,150.0h-4.6M900.35,150.0h4.6" stroke="#000" stroke-width="1.1" fill="none"/>
<path d="M126.0,150.2v-8.4M126.0,704.8v8.4M190.5,150.2v-8.4M190.5,704.8v8.4M255.0,150.2v-8.4M255.0,704.8v8.4M319.5,150.2v-8.4M319.5,704.8v8.4M384.0,150.2v-8.4M384.0,704.8v8.4M448.5,150.2v-8.4M448.5,704.8v8.4M513.0,150.2v-8.4M513.0,704.8v8.4M577.5,150.2v-8.4M577.5,704.8v8.4M642.0,150.2v-8.4M642.0,704.8v8.4M706.5,150.2v-8.4M706.5,704.8v8.4M771.0,150.2v-8.4M771.0,704.8v8.4M835.5,150.2v-8.4M835.5,704.8v8.4M900.0,150.2v-8.4M900.0,704.8v8.4M100.2,704.8h-8.4M900.35,704.8h8.4M100.2,640.3h-8.4M900.35,640.3h8.4M100.2,575.8h-8.4M900.35,575.8h8.4M100.2,511.3h-8.4M900.35,511.3h8.4M100.2,446.7h-8.4M900.35,446.7h8.4M100.2,382.2h-8.4M900.35,382.2h8.4M100.2,317.7h-8.4M900.35,317.7h8.4M100.2,253.2h-8.4M900.35,253.2h8.4M100.2,188.7h-8.4M900.35,188.7h8.4" stroke="#000" stroke-width="1.2" fill="none"/>
<text class="ax" x="126.1" y="135.3" text-anchor="middle" letter-spacing="0.25">−92°00'</text>
<text class="ax" x="126.1" y="727.6" text-anchor="middle" letter-spacing="0.25">−92°00'</text>
<text class="ax" x="190.6" y="135.3" text-anchor="middle" letter-spacing="0.25">−91°45'</text>
<text class="ax" x="190.6" y="727.6" text-anchor="middle" letter-spacing="0.25">−91°45'</text>
<text class="ax" x="255.1" y="135.3" text-anchor="middle" letter-spacing="0.25">−91°30'</text>
<text class="ax" x="255.1" y="727.6" text-anchor="middle" letter-spacing="0.25">−91°30'</text>
<text class="ax" x="319.6" y="135.3" text-anchor="middle" letter-spacing="0.25">−91°15'</text>
<text class="ax" x="319.6" y="727.6" text-anchor="middle" letter-spacing="0.25">−91°15'</text>
<text class="ax" x="384.1" y="135.3" text-anchor="middle" letter-spacing="0.25">−91°00'</text>
<text class="ax" x="384.1" y="727.6" text-anchor="middle" letter-spacing="0.25">−91°00'</text>
<text class="ax" x="448.6" y="135.3" text-anchor="middle" letter-spacing="0.25">−90°45'</text>
<text class="ax" x="448.6" y="727.6" text-anchor="middle" letter-spacing="0.25">−90°45'</text>
<text class="ax" x="513.1" y="135.3" text-anchor="middle" letter-spacing="0.25">−90°30'</text>
<text class="ax" x="513.1" y="727.6" text-anchor="middle" letter-spacing="0.25">−90°30'</text>
<text class="ax" x="577.6" y="135.3" text-anchor="middle" letter-spacing="0.25">−90°15'</text>
<text class="ax" x="577.6" y="727.6" text-anchor="middle" letter-spacing="0.25">−90°15'</text>
<text class="ax" x="642.1" y="135.3" text-anchor="middle" letter-spacing="0.25">−90°00'</text>
<text class="ax" x="642.1" y="727.6" text-anchor="middle" letter-spacing="0.25">−90°00'</text>
<text class="ax" x="706.6" y="135.3" text-anchor="middle" letter-spacing="0.25">−89°45'</text>
<text class="ax" x="706.6" y="727.6" text-anchor="middle" letter-spacing="0.25">−89°45'</text>
<text class="ax" x="771.1" y="135.3" text-anchor="middle" letter-spacing="0.25">−89°30'</text>
<text class="ax" x="771.1" y="727.6" text-anchor="middle" letter-spacing="0.25">−89°30'</text>
<text class="ax" x="835.6" y="135.3" text-anchor="middle" letter-spacing="0.25">−89°15'</text>
<text class="ax" x="835.6" y="727.6" text-anchor="middle" letter-spacing="0.25">−89°15'</text>
<text class="ax" x="900.1" y="135.3" text-anchor="middle" letter-spacing="0.25">−89°00'</text>
<text class="ax" x="900.1" y="727.6" text-anchor="middle" letter-spacing="0.25">−89°00'</text>
<text class="ax" x="83.4" y="708.6" text-anchor="end">28°15'</text>
<text class="ax" x="915.6" y="708.6">28°15'</text>
<text class="ax" x="83.4" y="644.1" text-anchor="end">28°30'</text>
<text class="ax" x="915.6" y="644.1">28°30'</text>
<text class="ax" x="83.4" y="579.6" text-anchor="end">28°45'</text>
<text class="ax" x="915.6" y="579.6">28°45'</text>
<text class="ax" x="83.4" y="515.1" text-anchor="end">29°00'</text>
<text class="ax" x="915.6" y="515.1">29°00'</text>
<text class="ax" x="83.4" y="450.5" text-anchor="end">29°15'</text>
<text class="ax" x="915.6" y="450.5">29°15'</text>
<text class="ax" x="83.4" y="386.0" text-anchor="end">29°30'</text>
<text class="ax" x="915.6" y="386.0">29°30'</text>
<text class="ax" x="83.4" y="321.5" text-anchor="end">29°45'</text>
<text class="ax" x="915.6" y="321.5">29°45'</text>
<text class="ax" x="83.4" y="257.0" text-anchor="end">30°00'</text>
<text class="ax" x="915.6" y="257.0">30°00'</text>
<text class="ax" x="83.4" y="192.5" text-anchor="end">30°15'</text>
<text class="ax" x="915.6" y="192.5">30°15'</text>
<path d="M533,219.60000000000002L539.2,225.8L533,232.0L526.8,225.8Z" fill="#ffff00" stroke="#000" stroke-width="1.7" stroke-linejoin="miter"/>
<path d="M726.2,280.8L732.4000000000001,287L726.2,293.2L720.0,287Z" fill="#ffff00" stroke="#000" stroke-width="1.7" stroke-linejoin="miter"/>
<path d="M815.8,162.9L822.0,169.1L815.8,175.29999999999998L809.5999999999999,169.1Z" fill="#ffff00" stroke="#000" stroke-width="1.7" stroke-linejoin="miter"/>
<path d="M652.6,436.40000000000003L658.8000000000001,442.6L652.6,448.8L646.4,442.6Z" fill="#ffff00" stroke="#000" stroke-width="1.7" stroke-linejoin="miter"/>
<path d="M759,473.6L765.2,479.8L759,486.0L752.8,479.8Z" fill="#ffff00" stroke="#000" stroke-width="1.7" stroke-linejoin="miter"/>
<path d="M832.9,458.6L839.1,464.8L832.9,471.0L826.6999999999999,464.8Z" fill="#ffff00" stroke="#000" stroke-width="1.7" stroke-linejoin="miter"/>
<circle cx="879.3" cy="185.5" r="5.9" fill="#fff" stroke="#000" stroke-width="1.8"/>
<rect x="980.3" y="277.2" width="20.4" height="299.6" fill="url(#turbo)" stroke="#000" stroke-width="3"/>
<path d="M1002,277.2H1008.8" stroke="#000" stroke-width="1.1"/>
<text x="1014.8" y="280.9" font-size="10.6">85</text>
<path d="M1002,327.1H1008.8" stroke="#000" stroke-width="1.1"/>
<text x="1014.8" y="330.8" font-size="10.6">81</text>
<path d="M1002,377.1H1008.8" stroke="#000" stroke-width="1.1"/>
<text x="1014.8" y="380.8" font-size="10.6">77</text>
<path d="M1002,427.0H1008.8" stroke="#000" stroke-width="1.1"/>
<text x="1014.8" y="430.7" font-size="10.6">73</text>
<path d="M1002,476.9H1008.8" stroke="#000" stroke-width="1.1"/>
<text x="1014.8" y="480.6" font-size="10.6">69</text>
<path d="M1002,526.9H1008.8" stroke="#000" stroke-width="1.1"/>
<text x="1014.8" y="530.6" font-size="10.6">65</text>
<path d="M1002,576.8H1008.8" stroke="#000" stroke-width="1.1"/>
<text x="1014.8" y="580.5" font-size="10.6">61</text>
<path d="M978.8,277.2H1002M978.8,327.1H1002M978.8,377.1H1002M978.8,427.0H1002M978.8,476.9H1002M978.8,526.9H1002M978.8,576.8H1002" stroke="#b8b8b8" stroke-width="1.5" fill="none"/>
<text class="b" font-size="14" text-anchor="middle" transform="translate(1054.9,427.7) rotate(-90)">Temp (F)</text>
<text class="b" x="500.5" y="30.2" font-size="19.4" text-anchor="middle">Mississippi River Outflow Ocean Cube (AMSEAS)</text>
<text class="b" x="500.5" y="800.2" font-size="19.4" text-anchor="middle">Mississippi River Outflow Ocean Cube (AMSEAS)</text>
<text class="t" x="500.6" y="115.1" font-size="18.3" text-anchor="middle">Water Temperature at 65 Feet ANALYSIS valid Nov 04 2025 00:00Z</text>
<text class="t" x="783.6" y="109.6" font-size="13.75">Miss River Outflow</text>
<circle cx="120" cy="45" r="5.8" fill="#fff" stroke="#000" stroke-width="1.6"/>
<text class="b" x="130.2" y="50.4" font-size="13.8">USM Instrumentation</text>
<path d="M119.7,54.0L125.7,60L119.7,66.0L113.7,60Z" fill="#ffff00" stroke="#000" stroke-width="1.7" stroke-linejoin="miter"/>
<text class="b" x="130.2" y="65.4" font-size="13.8">NDBC Station</text>
<rect x="698.9" y="39.9" width="196.2" height="39.7" fill="#fff" stroke="#000" stroke-width="1.8"/>
<text class="b" x="704.3" y="55.2" font-size="12">1.00 kts</text>
<path d="M843,50.2H880" stroke="#000" stroke-width="0.8"/>
<path d="M893.2,50.2L877.8,45.0L877.8,55.400000000000006Z" fill="#000"/>
<text class="b" x="704.3" y="65.2" font-size="12">2.00 kts</text>
<path d="M801,60.2H880" stroke="#000" stroke-width="0.8"/>
<path d="M893.2,60.2L877.8,55.0L877.8,65.4Z" fill="#000"/>
<text class="b" x="704.3" y="75.2" font-size="12">3.00 kts</text>
<path d="M759,70.2H880" stroke="#000" stroke-width="0.8"/>
<path d="M893.2,70.2L877.8,65.0L877.8,75.4Z" fill="#000"/>
<text class="b" x="699.4" y="93.7" font-size="11.15">CURRENTS Vectors</text>
</svg></body></html>
